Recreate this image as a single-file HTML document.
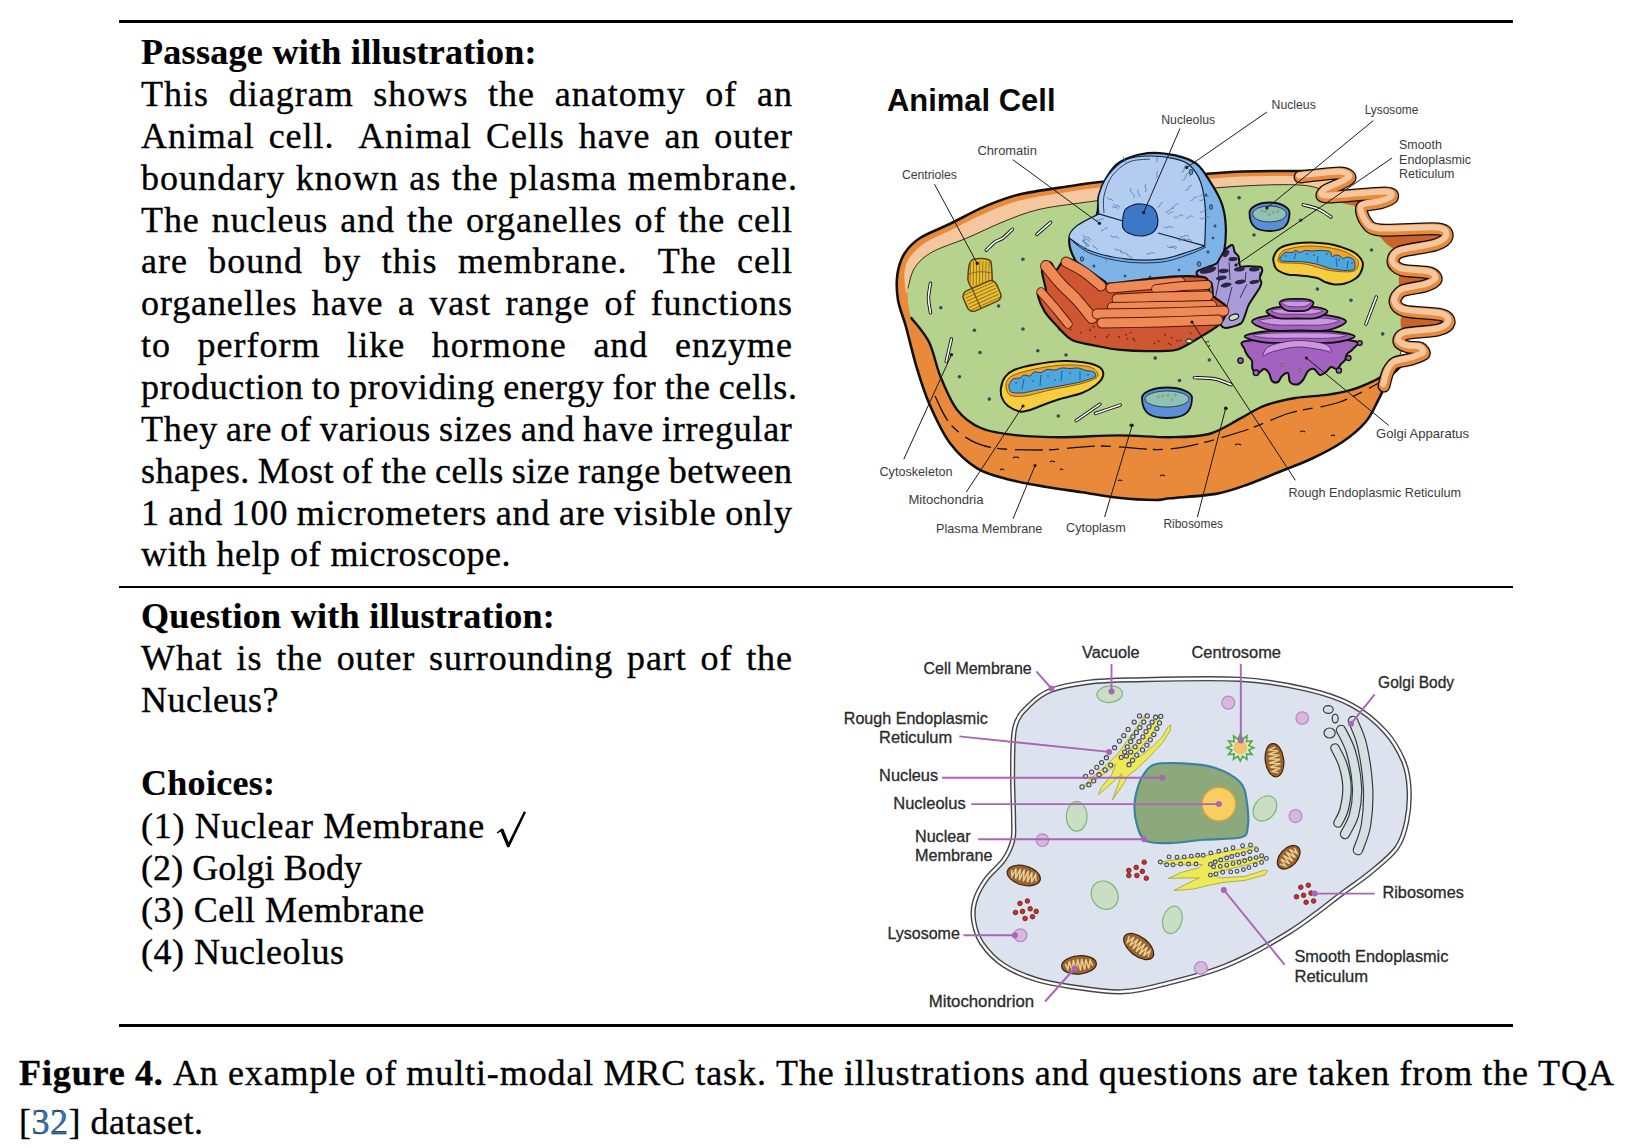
<!DOCTYPE html>
<html><head><meta charset="utf-8"><style>
html,body{margin:0;padding:0;background:#fff;width:1636px;height:1148px;overflow:hidden;position:relative}
.l{position:absolute;left:141px;font-family:"Liberation Serif",serif;font-size:36px;line-height:36px;white-space:nowrap;color:#000;letter-spacing:0.5px;-webkit-text-stroke:0.35px #000}
.f{display:flex;justify-content:space-between}
.b{font-weight:bold;letter-spacing:0.3px;-webkit-text-stroke:0.2px #000}
.rule{position:absolute;left:119px;width:1394px;background:#000}
.ck{position:absolute;left:494px;width:34px;height:40px}
svg.d{position:absolute;left:0;top:0}
</style></head><body>
<div class="rule" style="top:20px;height:3px"></div>
<div class="rule" style="top:586px;height:2px"></div>
<div class="rule" style="top:1024px;height:3px"></div>
<div class="l b" style="top:34px">Passage with illustration:</div>
<div class="l f" style="top:75.9px;left:141px;width:652.0px;letter-spacing:1.01px"><span>This</span><span>diagram</span><span>shows</span><span>the</span><span>anatomy</span><span>of</span><span>an</span></div>
<div class="l f" style="top:117.7px;left:141px;width:652.0px;letter-spacing:0.95px"><span>Animal</span><span>cell. </span><span>Animal</span><span>Cells</span><span>have</span><span>an</span><span>outer</span></div>
<div class="l f" style="top:159.6px;left:141px;width:657.0px;letter-spacing:1.04px"><span>boundary</span><span>known</span><span>as</span><span>the</span><span>plasma</span><span>membrane.</span></div>
<div class="l f" style="top:201.5px;left:141px;width:651.9px;letter-spacing:0.92px"><span>The</span><span>nucleus</span><span>and</span><span>the</span><span>organelles</span><span>of</span><span>the</span><span>cell</span></div>
<div class="l f" style="top:243.4px;left:141px;width:652.0px;letter-spacing:0.97px"><span>are</span><span>bound</span><span>by</span><span>this</span><span>membrane. </span><span>The</span><span>cell</span></div>
<div class="l f" style="top:285.2px;left:141px;width:651.9px;letter-spacing:0.91px"><span>organelles</span><span>have</span><span>a</span><span>vast</span><span>range</span><span>of</span><span>functions</span></div>
<div class="l f" style="top:327.1px;left:141px;width:652.0px;letter-spacing:1.01px"><span>to</span><span>perform</span><span>like</span><span>hormone</span><span>and</span><span>enzyme</span></div>
<div class="l f" style="top:369.0px;left:141px;width:656.7px;letter-spacing:0.66px"><span>production</span><span>to</span><span>providing</span><span>energy</span><span>for</span><span>the</span><span>cells.</span></div>
<div class="l f" style="top:410.8px;left:141px;width:651.7px;letter-spacing:0.74px"><span>They</span><span>are</span><span>of</span><span>various</span><span>sizes</span><span>and</span><span>have</span><span>irregular</span></div>
<div class="l f" style="top:452.7px;left:141px;width:651.5px;letter-spacing:0.54px"><span>shapes.</span><span>Most</span><span>of</span><span>the</span><span>cells</span><span>size</span><span>range</span><span>between</span></div>
<div class="l f" style="top:494.6px;left:141px;width:652.0px;letter-spacing:0.96px"><span>1</span><span>and</span><span>100</span><span>micrometers</span><span>and</span><span>are</span><span>visible</span><span>only</span></div>
<div class="l" style="top:536.4px">with help of microscope.</div>
<div class="l b" style="top:598px">Question with illustration:</div>
<div class="l f" style="top:639.9px;left:141px;width:651.9px;letter-spacing:0.92px"><span>What</span><span>is</span><span>the</span><span>outer</span><span>surrounding</span><span>part</span><span>of</span><span>the</span></div>
<div class="l" style="top:681.7px">Nucleus?</div>
<div class="l b" style="top:765.4px">Choices:</div>
<div class="l" style="top:808.0px;letter-spacing:0.7px">(1) Nuclear Membrane</div>
<div class="ck" style="top:807.2px"></div>
<div class="l" style="top:849.8px;letter-spacing:0.08px">(2) Golgi Body</div>
<div class="l" style="top:891.7px;letter-spacing:0.45px">(3) Cell Membrane</div>
<div class="l" style="top:933.5px;letter-spacing:0.5px">(4) Nucleolus</div>
<div class="l f" style="top:1055.3px;left:19px;width:1596px;letter-spacing:0.9px"><span><b>Figure</b></span><span><b>4.</b></span><span>An</span><span>example</span><span>of</span><span>multi-modal</span><span>MRC</span><span>task.</span><span>The</span><span>illustrations</span><span>and</span><span>questions</span><span>are</span><span>taken</span><span>from</span><span>the</span><span>TQA</span></div>
<div class="l" style="top:1104.1px;left:19px">[<span style="color:#3079c0">32</span>] dataset.</div>

<svg class="d" width="1636" height="1148" viewBox="0 0 1636 1148">
<path d="M496.8,832.6 L501.6,828.6 L503.4,829 L508.6,842.2 L523.9,811.2 L526,812.2 L509.3,847.3 L507.2,847.3 L500.6,831.6 L497.6,833.6Z" fill="#000"/>
<path d="M898.0,300.0 C896.6,291.3 896.3,282.2 897.4,274.5 C898.5,266.8 900.6,259.7 904.4,253.6 C908.2,247.5 912.5,242.9 920.0,238.0 C927.5,233.1 939.0,229.2 949.7,224.0 C960.5,218.8 972.9,211.5 984.5,206.6 C996.1,201.7 1005.0,197.8 1019.4,194.4 C1033.8,191.0 1057.6,188.1 1071.0,186.0 C1084.4,183.9 1085.2,183.5 1100.0,182.0 C1114.8,180.5 1142.5,178.3 1160.0,177.0 C1177.5,175.7 1191.2,174.9 1205.0,174.0 C1218.8,173.1 1227.2,172.0 1243.0,171.5 C1258.8,171.0 1283.8,170.9 1300.0,171.0 C1316.2,171.1 1332.5,170.5 1340.0,172.0 C1347.5,173.5 1347.3,176.8 1345.0,180.0 C1342.7,183.2 1323.2,186.5 1326.0,191.0 C1328.8,195.5 1354.7,201.5 1362.0,207.0 C1369.3,212.5 1364.3,216.8 1370.0,224.0 C1375.7,231.2 1391.5,243.7 1396.0,250.0 C1400.5,256.3 1396.2,256.7 1397.0,262.0 C1397.8,267.3 1400.7,275.3 1401.0,282.0 C1401.3,288.7 1398.5,295.3 1399.0,302.0 C1399.5,308.7 1403.3,315.3 1404.0,322.0 C1404.7,328.7 1404.2,335.3 1403.0,342.0 C1401.8,348.7 1397.5,358.0 1397.0,362.0 C1396.5,366.0 1399.7,365.0 1400.0,366.0 C1400.3,367.0 1400.8,366.3 1399.0,368.2 C1397.2,370.1 1392.9,372.4 1389.5,377.6 C1386.1,382.8 1382.4,392.3 1378.5,399.6 C1374.6,406.9 1372.0,414.4 1366.0,421.5 C1360.0,428.6 1351.6,435.8 1342.4,442.0 C1333.2,448.2 1321.5,454.1 1311.0,459.0 C1300.5,463.9 1290.1,467.5 1279.7,471.7 C1269.3,475.9 1258.9,480.5 1248.4,484.2 C1238.0,487.9 1230.1,491.2 1217.0,493.6 C1203.9,496.0 1180.3,497.2 1170.0,498.3 C1159.7,499.4 1163.6,500.1 1155.0,500.0 C1146.4,499.9 1130.6,499.0 1118.4,497.7 C1106.2,496.4 1093.9,494.0 1081.7,492.2 C1069.5,490.4 1057.2,488.8 1045.0,486.7 C1032.8,484.6 1019.7,482.4 1008.4,479.4 C997.1,476.3 987.0,474.5 977.2,468.4 C967.4,462.3 957.7,453.4 949.7,442.7 C941.8,432.0 935.0,416.7 929.5,404.2 C924.0,391.7 920.6,380.4 916.7,367.5 C912.8,354.6 909.1,338.1 906.0,326.8 C902.9,315.6 899.4,308.7 898.0,300.0Z" fill="#E98A3B" stroke="#111" stroke-width="2.6" stroke-linejoin="round"/>
<path d="M906.0,292.0 C905.4,289.0 903.8,277.8 904.5,272.0 C905.2,266.2 906.6,261.8 910.0,257.0 C913.4,252.2 917.8,247.7 925.0,243.0 C932.2,238.3 942.5,234.2 953.0,229.0 C963.5,223.8 976.5,216.8 988.0,212.0 C999.5,207.2 1008.2,203.4 1022.0,200.0 C1035.8,196.6 1058.0,193.6 1071.0,191.5 C1084.0,189.4 1085.2,189.1 1100.0,187.5 C1114.8,185.9 1142.5,183.4 1160.0,182.0 C1177.5,180.6 1191.2,179.9 1205.0,179.0 C1218.8,178.1 1227.2,177.0 1243.0,176.5 C1258.8,176.0 1284.7,175.9 1300.0,176.0 C1315.3,176.1 1330.7,174.7 1335.0,177.0 C1339.3,179.3 1331.8,188.7 1326.0,190.0 C1320.2,191.3 1313.8,185.7 1300.0,185.0 C1286.2,184.3 1266.3,184.7 1243.0,186.0 C1219.7,187.3 1187.2,190.2 1160.0,193.0 C1132.8,195.8 1100.5,200.2 1080.0,203.0 C1059.5,205.8 1049.8,206.8 1036.8,210.0 C1023.8,213.2 1013.6,217.6 1002.0,222.3 C990.4,227.0 978.6,233.1 967.0,238.0 C955.4,242.9 941.0,247.1 932.3,252.0 C923.6,256.9 918.9,261.3 914.8,267.6 C910.7,273.9 909.4,285.9 907.9,290.0 C906.4,294.1 906.6,295.0 906.0,292.0Z" fill="#F5C7A0" stroke="none" stroke-width="0" />
<path d="M907.9,288.5 C908.5,280.1 910.7,273.7 914.8,267.6 C918.9,261.5 923.6,256.9 932.3,252.0 C941.0,247.1 955.4,242.9 967.0,238.0 C978.6,233.1 990.4,227.0 1002.0,222.3 C1013.6,217.6 1023.8,213.2 1036.8,210.0 C1049.8,206.8 1059.5,205.8 1080.0,203.0 C1100.5,200.2 1132.8,195.8 1160.0,193.0 C1187.2,190.2 1219.7,187.3 1243.0,186.0 C1266.3,184.7 1286.5,184.3 1300.0,185.0 C1313.5,185.7 1313.7,186.3 1324.0,190.0 C1334.3,193.7 1354.3,201.3 1362.0,207.0 C1369.7,212.7 1364.3,216.8 1370.0,224.0 C1375.7,231.2 1391.5,243.7 1396.0,250.0 C1400.5,256.3 1396.2,256.7 1397.0,262.0 C1397.8,267.3 1400.7,275.3 1401.0,282.0 C1401.3,288.7 1398.5,295.3 1399.0,302.0 C1399.5,308.7 1403.3,315.3 1404.0,322.0 C1404.7,328.7 1404.2,335.3 1403.0,342.0 C1401.8,348.7 1399.2,357.1 1397.0,362.0 C1394.8,366.9 1393.4,368.3 1389.5,371.4 C1385.6,374.5 1380.3,377.7 1373.8,380.8 C1367.3,383.9 1358.1,387.9 1350.3,390.2 C1342.5,392.5 1335.9,393.6 1326.8,394.9 C1317.7,396.2 1305.9,396.2 1295.4,398.0 C1284.9,399.8 1273.2,402.4 1264.0,405.8 C1254.8,409.2 1249.7,413.7 1240.5,418.4 C1231.3,423.1 1220.8,430.9 1209.0,434.0 C1197.2,437.1 1185.1,437.0 1170.0,437.2 C1154.9,437.4 1136.2,435.4 1118.4,435.4 C1100.6,435.4 1080.2,437.2 1063.4,437.2 C1046.6,437.2 1031.2,436.9 1017.5,435.4 C1003.8,433.9 991.0,432.3 980.9,428.0 C970.8,423.7 963.7,418.2 957.0,409.7 C950.3,401.1 945.2,388.0 940.5,376.7 C935.8,365.4 933.9,351.8 929.0,342.0 C924.1,332.2 914.9,326.9 911.4,318.0 C907.9,309.1 907.3,296.9 907.9,288.5Z" fill="#B5D38C" stroke="none" stroke-width="0" />
<path d="M911.4,318.0 C914.3,322.0 924.1,332.2 929.0,342.0 C933.9,351.8 935.8,365.4 940.5,376.7 C945.2,388.0 950.3,401.1 957.0,409.7 C963.7,418.2 970.8,423.7 980.9,428.0 C991.0,432.3 1003.8,433.9 1017.5,435.4 C1031.2,436.9 1046.6,437.2 1063.4,437.2 C1080.2,437.2 1100.6,435.4 1118.4,435.4 C1136.2,435.4 1154.9,437.4 1170.0,437.2 C1185.1,437.0 1197.2,437.1 1209.0,434.0 C1220.8,430.9 1231.3,423.1 1240.5,418.4 C1249.7,413.7 1254.8,409.2 1264.0,405.8 C1273.2,402.4 1284.9,399.8 1295.4,398.0 C1305.9,396.2 1317.7,396.2 1326.8,394.9 C1335.9,393.6 1342.5,392.5 1350.3,390.2 C1358.1,387.9 1367.3,383.9 1373.8,380.8 C1380.3,377.7 1386.9,373.0 1389.5,371.4" fill="none" stroke="#111" stroke-width="2.4" stroke-linecap="round"/>
<path d="M907.9,288.5 C909.0,285.0 910.7,273.7 914.8,267.6 C918.9,261.5 923.6,256.9 932.3,252.0 C941.0,247.1 955.4,242.9 967.0,238.0 C978.6,233.1 990.4,227.0 1002.0,222.3 C1013.6,217.6 1023.8,213.2 1036.8,210.0 C1049.8,206.8 1059.5,205.8 1080.0,203.0 C1100.5,200.2 1132.8,195.8 1160.0,193.0 C1187.2,190.2 1219.7,187.3 1243.0,186.0 C1266.3,184.7 1286.5,184.3 1300.0,185.0 C1313.5,185.7 1320.0,189.2 1324.0,190.0" fill="none" stroke="#3a2a1a" stroke-width="1.0" />
<path d="M935.0,396.0 C937.8,401.0 943.7,417.7 952.0,426.0 C960.3,434.3 970.3,442.0 985.0,446.0 C999.7,450.0 1020.8,450.0 1040.0,450.0 C1059.2,450.0 1078.3,446.2 1100.0,446.0 C1121.7,445.8 1146.7,451.3 1170.0,449.0 C1193.3,446.7 1220.0,438.0 1240.0,432.0 C1260.0,426.0 1273.3,418.0 1290.0,413.0 C1306.7,408.0 1323.7,407.8 1340.0,402.0 C1356.3,396.2 1380.0,382.0 1388.0,378.0" fill="none" stroke="#111" stroke-width="1.3" stroke-dasharray="28 6 10 8"/>
<path d="M1013,458 q3.0,-2 6,0" fill="none" stroke="#111" stroke-width="1.1" />
<path d="M1050,462 q2.5,-2 5,0" fill="none" stroke="#111" stroke-width="1.1" />
<path d="M1118,481 q2.0,-2 4,0" fill="none" stroke="#111" stroke-width="1.1" />
<path d="M1160,476 q2.5,-2 5,0" fill="none" stroke="#111" stroke-width="1.1" />
<path d="M1235,445 q3.0,-2 6,0" fill="none" stroke="#111" stroke-width="1.1" />
<path d="M1300,432 q2.5,-2 5,0" fill="none" stroke="#111" stroke-width="1.1" />
<path d="M1331,436 q2.0,-2 4,0" fill="none" stroke="#111" stroke-width="1.1" />
<path d="M1060,470 q1.5,-2 3,0" fill="none" stroke="#111" stroke-width="1.1" />
<path d="M1000,470 q2.0,-2 4,0" fill="none" stroke="#111" stroke-width="1.1" />
<path d="M1380.0,230.0 C1386.3,226.2 1426.8,227.8 1438.0,229.0 C1449.2,230.2 1447.5,234.3 1447.0,237.0 C1446.5,239.7 1442.8,242.5 1435.0,245.0 C1427.2,247.5 1409.2,254.5 1400.0,252.0 C1390.8,249.5 1373.7,233.8 1380.0,230.0Z" fill="#C9652A" stroke="none" stroke-width="0" />
<path d="M1402.0,270.0 C1406.7,267.0 1424.3,271.3 1430.0,273.0 C1435.7,274.7 1436.8,277.8 1436.0,280.0 C1435.2,282.2 1430.7,284.2 1425.0,286.0 C1419.3,287.8 1405.8,293.7 1402.0,291.0 C1398.2,288.3 1397.3,273.0 1402.0,270.0Z" fill="#C9652A" stroke="none" stroke-width="0" />
<path d="M1405.0,311.0 C1411.2,307.8 1434.7,313.0 1442.0,315.0 C1449.3,317.0 1449.7,320.5 1449.0,323.0 C1448.3,325.5 1445.3,328.2 1438.0,330.0 C1430.7,331.8 1410.5,337.2 1405.0,334.0 C1399.5,330.8 1398.8,314.2 1405.0,311.0Z" fill="#C9652A" stroke="none" stroke-width="0" />
<path d="M1327.0,197.0 C1330.8,194.7 1374.2,192.8 1385.0,193.0 C1395.8,193.2 1392.8,196.3 1392.0,198.0 C1391.2,199.7 1385.0,201.5 1380.0,203.0 C1375.0,204.5 1370.8,208.0 1362.0,207.0 C1353.2,206.0 1323.2,199.3 1327.0,197.0Z" fill="#C9652A" stroke="none" stroke-width="0" />
<path d="M1300.0,177.0 C1306.0,176.4 1332.5,172.8 1340.0,173.0 C1347.5,173.2 1350.3,176.2 1350.0,178.0 C1349.7,179.8 1341.8,183.1 1338.0,185.0 C1334.2,186.9 1326.7,189.2 1325.0,191.0 C1323.3,192.8 1318.0,196.7 1327.0,197.0 C1336.0,197.3 1375.2,192.8 1385.0,193.0 C1394.8,193.2 1392.8,196.5 1392.0,198.0 C1391.2,199.5 1384.5,201.7 1380.0,203.0 C1375.5,204.3 1364.1,204.2 1362.0,207.0 C1359.9,209.8 1363.3,218.6 1366.0,222.0 C1368.7,225.4 1369.2,228.9 1380.0,230.0 C1390.8,231.1 1428.0,227.9 1438.0,229.0 C1448.0,230.1 1447.5,234.6 1447.0,237.0 C1446.5,239.4 1442.0,242.8 1435.0,245.0 C1428.0,247.2 1406.3,249.4 1400.0,252.0 C1393.7,254.6 1392.7,259.3 1393.0,262.0 C1393.3,264.7 1396.5,268.4 1402.0,270.0 C1407.5,271.6 1424.9,271.5 1430.0,273.0 C1435.1,274.5 1436.8,278.1 1436.0,280.0 C1435.2,281.9 1430.1,284.4 1425.0,286.0 C1419.9,287.6 1406.5,288.6 1402.0,291.0 C1397.5,293.4 1394.5,299.0 1395.0,302.0 C1395.5,305.0 1398.0,309.1 1405.0,311.0 C1412.0,312.9 1435.4,313.2 1442.0,315.0 C1448.6,316.8 1449.6,320.8 1449.0,323.0 C1448.4,325.2 1444.6,328.4 1438.0,330.0 C1431.4,331.6 1410.8,332.2 1405.0,334.0 C1399.2,335.8 1398.5,340.1 1399.0,342.0 C1399.5,343.9 1404.8,346.1 1408.0,347.0 C1411.2,347.9 1417.6,346.9 1420.0,348.0 C1422.4,349.1 1425.2,352.4 1424.0,354.0 C1422.8,355.6 1416.3,357.6 1412.0,359.0 C1407.7,360.4 1398.6,361.1 1395.0,363.0 C1391.4,364.9 1389.7,368.6 1388.0,372.0 C1386.3,375.4 1384.6,383.9 1384.0,386.0" fill="none" stroke="#111" stroke-width="13" stroke-linejoin="round" stroke-linecap="round"/>
<path d="M1300.0,177.0 C1306.0,176.4 1332.5,172.8 1340.0,173.0 C1347.5,173.2 1350.3,176.2 1350.0,178.0 C1349.7,179.8 1341.8,183.1 1338.0,185.0 C1334.2,186.9 1326.7,189.2 1325.0,191.0 C1323.3,192.8 1318.0,196.7 1327.0,197.0 C1336.0,197.3 1375.2,192.8 1385.0,193.0 C1394.8,193.2 1392.8,196.5 1392.0,198.0 C1391.2,199.5 1384.5,201.7 1380.0,203.0 C1375.5,204.3 1364.1,204.2 1362.0,207.0 C1359.9,209.8 1363.3,218.6 1366.0,222.0 C1368.7,225.4 1369.2,228.9 1380.0,230.0 C1390.8,231.1 1428.0,227.9 1438.0,229.0 C1448.0,230.1 1447.5,234.6 1447.0,237.0 C1446.5,239.4 1442.0,242.8 1435.0,245.0 C1428.0,247.2 1406.3,249.4 1400.0,252.0 C1393.7,254.6 1392.7,259.3 1393.0,262.0 C1393.3,264.7 1396.5,268.4 1402.0,270.0 C1407.5,271.6 1424.9,271.5 1430.0,273.0 C1435.1,274.5 1436.8,278.1 1436.0,280.0 C1435.2,281.9 1430.1,284.4 1425.0,286.0 C1419.9,287.6 1406.5,288.6 1402.0,291.0 C1397.5,293.4 1394.5,299.0 1395.0,302.0 C1395.5,305.0 1398.0,309.1 1405.0,311.0 C1412.0,312.9 1435.4,313.2 1442.0,315.0 C1448.6,316.8 1449.6,320.8 1449.0,323.0 C1448.4,325.2 1444.6,328.4 1438.0,330.0 C1431.4,331.6 1410.8,332.2 1405.0,334.0 C1399.2,335.8 1398.5,340.1 1399.0,342.0 C1399.5,343.9 1404.8,346.1 1408.0,347.0 C1411.2,347.9 1417.6,346.9 1420.0,348.0 C1422.4,349.1 1425.2,352.4 1424.0,354.0 C1422.8,355.6 1416.3,357.6 1412.0,359.0 C1407.7,360.4 1398.6,361.1 1395.0,363.0 C1391.4,364.9 1389.7,368.6 1388.0,372.0 C1386.3,375.4 1384.6,383.9 1384.0,386.0" fill="none" stroke="#E98A3B" stroke-width="10.4" stroke-linejoin="round" stroke-linecap="round"/>
<path d="M1300.0,177.0 C1306.0,176.4 1332.5,172.8 1340.0,173.0 C1347.5,173.2 1350.3,176.2 1350.0,178.0 C1349.7,179.8 1341.8,183.1 1338.0,185.0 C1334.2,186.9 1326.7,189.2 1325.0,191.0 C1323.3,192.8 1318.0,196.7 1327.0,197.0 C1336.0,197.3 1375.2,192.8 1385.0,193.0 C1394.8,193.2 1392.8,196.5 1392.0,198.0 C1391.2,199.5 1384.5,201.7 1380.0,203.0 C1375.5,204.3 1364.1,204.2 1362.0,207.0 C1359.9,209.8 1363.3,218.6 1366.0,222.0 C1368.7,225.4 1369.2,228.9 1380.0,230.0 C1390.8,231.1 1428.0,227.9 1438.0,229.0 C1448.0,230.1 1447.5,234.6 1447.0,237.0 C1446.5,239.4 1442.0,242.8 1435.0,245.0 C1428.0,247.2 1406.3,249.4 1400.0,252.0 C1393.7,254.6 1392.7,259.3 1393.0,262.0 C1393.3,264.7 1396.5,268.4 1402.0,270.0 C1407.5,271.6 1424.9,271.5 1430.0,273.0 C1435.1,274.5 1436.8,278.1 1436.0,280.0 C1435.2,281.9 1430.1,284.4 1425.0,286.0 C1419.9,287.6 1406.5,288.6 1402.0,291.0 C1397.5,293.4 1394.5,299.0 1395.0,302.0 C1395.5,305.0 1398.0,309.1 1405.0,311.0 C1412.0,312.9 1435.4,313.2 1442.0,315.0 C1448.6,316.8 1449.6,320.8 1449.0,323.0 C1448.4,325.2 1444.6,328.4 1438.0,330.0 C1431.4,331.6 1410.8,332.2 1405.0,334.0 C1399.2,335.8 1398.5,340.1 1399.0,342.0 C1399.5,343.9 1404.8,346.1 1408.0,347.0 C1411.2,347.9 1417.6,346.9 1420.0,348.0 C1422.4,349.1 1425.2,352.4 1424.0,354.0 C1422.8,355.6 1416.3,357.6 1412.0,359.0 C1407.7,360.4 1398.6,361.1 1395.0,363.0 C1391.4,364.9 1389.7,368.6 1388.0,372.0 C1386.3,375.4 1384.6,383.9 1384.0,386.0" fill="none" stroke="#F5C7A0" stroke-width="6" stroke-linejoin="round" stroke-linecap="round" transform="translate(-0.8,-1.6)"/>
<path d="M986.3,250.1 C987.8,248.8 992.2,244.0 995.0,242.0 C997.8,240.0 1000.1,240.1 1003.0,238.0 C1005.9,235.9 1010.8,230.7 1012.4,229.2" fill="none" stroke="#111" stroke-width="3.4" stroke-linecap="round"/>
<path d="M986.3,250.1 C987.8,248.8 992.2,244.0 995.0,242.0 C997.8,240.0 1000.1,240.1 1003.0,238.0 C1005.9,235.9 1010.8,230.7 1012.4,229.2" fill="none" stroke="#fff" stroke-width="1.6" stroke-linecap="round"/>
<path d="M1036.8,234.5 C1039.1,232.5 1048.4,224.3 1050.7,222.3" fill="none" stroke="#111" stroke-width="3.4" stroke-linecap="round"/>
<path d="M1036.8,234.5 C1039.1,232.5 1048.4,224.3 1050.7,222.3" fill="none" stroke="#fff" stroke-width="1.6" stroke-linecap="round"/>
<path d="M930.5,283.2 C930.2,285.7 928.5,293.1 928.5,298.0 C928.5,302.9 930.2,310.4 930.5,312.9" fill="none" stroke="#111" stroke-width="3.4" stroke-linecap="round"/>
<path d="M930.5,283.2 C930.2,285.7 928.5,293.1 928.5,298.0 C928.5,302.9 930.2,310.4 930.5,312.9" fill="none" stroke="#fff" stroke-width="1.6" stroke-linecap="round"/>
<path d="M946.2,361.6 C947.1,357.8 950.5,342.8 951.4,339.0" fill="none" stroke="#111" stroke-width="3.4" stroke-linecap="round"/>
<path d="M946.2,361.6 C947.1,357.8 950.5,342.8 951.4,339.0" fill="none" stroke="#fff" stroke-width="1.6" stroke-linecap="round"/>
<path d="M1076.2,420.7 C1080.2,417.9 1096.0,406.9 1100.0,404.2" fill="none" stroke="#111" stroke-width="3.4" stroke-linecap="round"/>
<path d="M1076.2,420.7 C1080.2,417.9 1096.0,406.9 1100.0,404.2" fill="none" stroke="#fff" stroke-width="1.6" stroke-linecap="round"/>
<path d="M1095.5,413.4 C1099.6,412.0 1116.1,406.5 1120.2,405.1" fill="none" stroke="#111" stroke-width="3.4" stroke-linecap="round"/>
<path d="M1095.5,413.4 C1099.6,412.0 1116.1,406.5 1120.2,405.1" fill="none" stroke="#fff" stroke-width="1.6" stroke-linecap="round"/>
<path d="M1194.3,377.6 C1197.8,377.8 1208.9,377.8 1215.0,379.0 C1221.1,380.2 1228.4,383.8 1231.1,384.7" fill="none" stroke="#111" stroke-width="3.4" stroke-linecap="round"/>
<path d="M1194.3,377.6 C1197.8,377.8 1208.9,377.8 1215.0,379.0 C1221.1,380.2 1228.4,383.8 1231.1,384.7" fill="none" stroke="#fff" stroke-width="1.6" stroke-linecap="round"/>
<path d="M1303.2,204.8 C1305.7,205.5 1313.4,207.0 1318.0,209.0 C1322.6,211.0 1328.8,215.7 1331.0,217.0" fill="none" stroke="#111" stroke-width="3.4" stroke-linecap="round"/>
<path d="M1303.2,204.8 C1305.7,205.5 1313.4,207.0 1318.0,209.0 C1322.6,211.0 1328.8,215.7 1331.0,217.0" fill="none" stroke="#fff" stroke-width="1.6" stroke-linecap="round"/>
<path d="M1365.9,324.1 C1367.6,319.6 1374.6,301.6 1376.3,297.1" fill="none" stroke="#111" stroke-width="3.4" stroke-linecap="round"/>
<path d="M1365.9,324.1 C1367.6,319.6 1374.6,301.6 1376.3,297.1" fill="none" stroke="#fff" stroke-width="1.6" stroke-linecap="round"/>
<circle cx="1022.9" cy="259.3" r="1.8" fill="#2c4f5c"/>
<circle cx="998.6" cy="306" r="1.8" fill="#2c4f5c"/>
<circle cx="940.8" cy="307.8" r="1.8" fill="#2c4f5c"/>
<circle cx="974.4" cy="330.2" r="1.8" fill="#2c4f5c"/>
<circle cx="1037.8" cy="350.7" r="1.8" fill="#2c4f5c"/>
<circle cx="980" cy="352.5" r="1.8" fill="#2c4f5c"/>
<circle cx="959.5" cy="376.8" r="1.8" fill="#2c4f5c"/>
<circle cx="989.3" cy="399.1" r="1.8" fill="#2c4f5c"/>
<circle cx="1058.3" cy="416" r="1.8" fill="#2c4f5c"/>
<circle cx="1155.2" cy="358.1" r="1.8" fill="#2c4f5c"/>
<circle cx="1179.5" cy="380.5" r="1.8" fill="#2c4f5c"/>
<circle cx="1209.3" cy="360" r="1.8" fill="#2c4f5c"/>
<circle cx="1239.1" cy="197.8" r="1.8" fill="#2c4f5c"/>
<circle cx="1254" cy="235" r="1.8" fill="#2c4f5c"/>
<circle cx="1300.7" cy="220.2" r="1.8" fill="#2c4f5c"/>
<circle cx="1371.5" cy="250" r="1.8" fill="#2c4f5c"/>
<circle cx="1317.4" cy="289.1" r="1.8" fill="#2c4f5c"/>
<circle cx="1351" cy="300.3" r="1.8" fill="#2c4f5c"/>
<circle cx="1382.7" cy="333.9" r="1.8" fill="#2c4f5c"/>
<circle cx="1131" cy="425.2" r="1.8" fill="#2c4f5c"/>
<circle cx="1226" cy="408.5" r="1.8" fill="#2c4f5c"/>
<circle cx="1023" cy="329" r="1.8" fill="#2c4f5c"/>
<circle cx="1066" cy="355" r="1.8" fill="#2c4f5c"/>
<circle cx="1281" cy="324" r="1.8" fill="#2c4f5c"/>
<path d="M1096.0,216.0 C1099.5,210.9 1097.2,201.9 1098.8,195.7 C1100.4,189.5 1102.2,184.6 1105.7,179.0 C1109.2,173.4 1112.7,166.6 1119.7,162.3 C1126.7,158.0 1138.3,154.4 1147.6,153.2 C1156.9,152.0 1167.3,153.6 1175.4,155.3 C1183.5,157.1 1190.5,159.3 1196.3,163.7 C1202.1,168.1 1206.1,175.3 1210.3,181.8 C1214.5,188.3 1218.9,195.7 1221.4,202.7 C1224.0,209.7 1225.1,215.5 1225.6,223.6 C1226.1,231.7 1225.6,243.4 1224.2,251.5 C1222.8,259.6 1220.7,266.6 1217.2,272.4 C1213.7,278.2 1210.3,282.9 1203.3,286.3 C1196.3,289.7 1187.0,291.9 1175.4,292.6 C1163.8,293.3 1145.2,291.8 1133.6,290.5 C1122.0,289.2 1113.8,288.0 1105.7,285.0 C1097.6,282.0 1090.4,277.5 1084.8,272.4 C1079.2,267.3 1074.8,260.1 1072.3,254.3 C1069.8,248.5 1068.6,242.2 1069.5,237.6 C1070.4,232.9 1073.5,230.0 1077.9,226.4 C1082.3,222.8 1092.5,221.1 1096.0,216.0Z" fill="#7DB3E6" stroke="#111" stroke-width="2.2" stroke-linejoin="round"/>
<path d="M1098.8,213.9 C1098.8,210.9 1097.2,202.2 1098.8,195.7 C1100.4,189.2 1103.8,180.8 1108.5,174.8 C1113.2,168.8 1119.7,162.6 1126.7,159.5 C1133.7,156.4 1142.2,156.1 1150.3,156.0 C1158.4,155.9 1168.9,157.3 1175.4,158.8 C1181.9,160.3 1185.2,161.2 1189.4,165.0 C1193.6,168.8 1197.8,174.4 1200.5,181.8 C1203.2,189.2 1204.7,199.0 1205.4,209.7 C1206.1,220.4 1204.8,239.9 1204.7,245.9 L1204.7,245.9 C1202.2,246.8 1196.6,249.3 1189.4,251.5 C1182.2,253.7 1172.0,257.9 1161.5,259.2 C1151.0,260.5 1138.3,260.5 1126.7,259.2 C1115.1,257.9 1100.9,254.7 1091.8,251.5 C1082.7,248.3 1076.0,243.1 1072.3,240.3 C1068.6,237.5 1068.6,237.4 1069.5,234.8 C1070.4,232.2 1073.0,228.5 1077.9,225.0 C1082.8,221.5 1095.3,215.8 1098.8,213.9Z" fill="#B3CDF0" stroke="#10213a" stroke-width="1.2" stroke-linejoin="round"/>
<path d="M1098.8,213.9 L1123,221 M1158,233 L1204.7,245.9" fill="none" stroke="#10213a" stroke-width="1.1" />
<path d="M1104.0,213.0 C1104.0,210.2 1102.7,202.2 1104.0,196.0 C1105.3,189.8 1107.8,181.7 1112.0,176.0 C1116.2,170.3 1122.7,164.8 1129.0,162.0 C1135.3,159.2 1146.5,159.5 1150.0,159.0" fill="none" stroke="#10213a" stroke-width="0.8" />
<path d="M1073.0,242.0 C1076.2,244.0 1083.0,250.7 1092.0,254.0 C1101.0,257.3 1115.3,260.7 1127.0,262.0 C1138.7,263.3 1151.5,263.3 1162.0,262.0 C1172.5,260.7 1182.7,256.5 1190.0,254.0 C1197.3,251.5 1203.3,248.2 1206.0,247.0" fill="none" stroke="#10213a" stroke-width="0.9" />
<path d="M1157.5,207.0 c3.4,1.0 1.4,-4.8 5.4,-4.3" fill="none" stroke="#5a7fb2" stroke-width="0.9" />
<path d="M1178.0,239.2 c1.9,3.7 5.2,-2.6 7.9,1.1" fill="none" stroke="#5a7fb2" stroke-width="0.9" />
<path d="M1084.0,237.8 c-0.1,3.6 5.1,0.2 5.6,4.1" fill="none" stroke="#5a7fb2" stroke-width="0.9" />
<path d="M1171.0,245.8 c1.0,3.0 4.3,-1.4 5.9,1.8" fill="none" stroke="#5a7fb2" stroke-width="0.9" />
<path d="M1117.8,208.8 c-0.4,-3.3 -4.7,0.5 -5.7,-3.1" fill="none" stroke="#5a7fb2" stroke-width="0.9" />
<path d="M1198.8,196.1 c2.9,1.8 2.6,-4.1 6.1,-2.6" fill="none" stroke="#5a7fb2" stroke-width="0.9" />
<path d="M1181.3,172.2 c5.0,0.4 0.7,-7.1 6.3,-7.4" fill="none" stroke="#5a7fb2" stroke-width="0.9" />
<path d="M1119.6,207.5 c-0.1,-3.5 -4.9,0.1 -5.6,-3.7" fill="none" stroke="#5a7fb2" stroke-width="0.9" />
<path d="M1079.8,244.9 c0.0,4.7 6.7,0.0 7.4,5.3" fill="none" stroke="#5a7fb2" stroke-width="0.9" />
<path d="M1102.1,254.9 c-1.9,4.3 6.0,2.7 4.6,7.8" fill="none" stroke="#5a7fb2" stroke-width="0.9" />
<path d="M1174.2,216.9 c3.1,3.4 4.9,-4.4 8.9,-1.1" fill="none" stroke="#5a7fb2" stroke-width="0.9" />
<path d="M1182.5,179.7 c4.9,0.9 1.3,-7.0 7.0,-6.8" fill="none" stroke="#5a7fb2" stroke-width="0.9" />
<path d="M1190.4,200.1 c3.3,2.0 2.9,-4.6 6.9,-2.9" fill="none" stroke="#5a7fb2" stroke-width="0.9" />
<path d="M1133.7,197.8 c3.3,-4.0 -5.6,-4.7 -2.6,-9.6" fill="none" stroke="#5a7fb2" stroke-width="0.9" />
<path d="M1125.3,162.6 c2.1,-2.5 -3.5,-3.1 -1.6,-6.2" fill="none" stroke="#5a7fb2" stroke-width="0.9" />
<path d="M1103.9,219.7 c-2.3,-3.5 -5.1,3.3 -8.2,-0.3" fill="none" stroke="#5a7fb2" stroke-width="0.9" />
<path d="M1155.9,177.7 c3.3,-0.9 -1.2,-4.7 2.3,-6.3" fill="none" stroke="#5a7fb2" stroke-width="0.9" />
<path d="M1120.3,250.9 c0.4,4.3 6.1,-0.5 7.3,4.2" fill="none" stroke="#5a7fb2" stroke-width="0.9" />
<path d="M1083.5,239.7 c-1.7,3.5 4.9,2.4 3.6,6.6" fill="none" stroke="#5a7fb2" stroke-width="0.9" />
<path d="M1163.8,226.2 c1.9,4.6 6.5,-2.7 9.4,2.1" fill="none" stroke="#5a7fb2" stroke-width="0.9" />
<path d="M1199.6,199.9 c4.2,2.9 4.2,-5.9 9.4,-3.3" fill="none" stroke="#5a7fb2" stroke-width="0.9" />
<path d="M1200.0,217.9 c3.1,3.8 5.5,-4.3 9.5,-0.5" fill="none" stroke="#5a7fb2" stroke-width="0.9" />
<path d="M1138.8,196.8 c2.8,-2.2 -3.1,-4.0 -0.3,-7.0" fill="none" stroke="#5a7fb2" stroke-width="0.9" />
<path d="M1188.9,175.9 c3.2,0.7 1.0,-4.5 4.6,-4.3" fill="none" stroke="#5a7fb2" stroke-width="0.9" />
<path d="M1179.7,235.8 c2.4,4.2 6.0,-3.4 9.3,0.9" fill="none" stroke="#5a7fb2" stroke-width="0.9" />
<path d="M1112.7,201.1 c0.0,-3.4 -4.9,-0.1 -5.4,-3.9" fill="none" stroke="#5a7fb2" stroke-width="0.9" />
<path d="M1172.0,206.9 c3.1,1.8 2.7,-4.4 6.4,-2.8" fill="none" stroke="#5a7fb2" stroke-width="0.9" />
<path d="M1199.7,211.5 c3.2,3.3 4.7,-4.5 8.8,-1.4" fill="none" stroke="#5a7fb2" stroke-width="0.9" />
<path d="M1184.0,237.9 c0.9,4.2 6.0,-1.2 7.7,3.4" fill="none" stroke="#5a7fb2" stroke-width="0.9" />
<path d="M1185.4,190.2 c3.9,1.5 2.1,-5.6 6.7,-4.6" fill="none" stroke="#5a7fb2" stroke-width="0.9" />
<path d="M1110.9,235.3 c0.9,4.4 6.3,-1.3 8.0,3.5" fill="none" stroke="#5a7fb2" stroke-width="0.9" />
<path d="M1185.7,217.3 c2.3,2.8 4.0,-3.3 7.0,-0.6" fill="none" stroke="#5a7fb2" stroke-width="0.9" />
<path d="M1127.7,254.0 c-0.9,3.2 4.6,1.4 4.0,5.1" fill="none" stroke="#5a7fb2" stroke-width="0.9" />
<path d="M1093.3,245.0 c-1.0,3.2 4.5,1.5 3.9,5.2" fill="none" stroke="#5a7fb2" stroke-width="0.9" />
<path d="M1145.0,191.8 c3.7,-1.8 -2.5,-5.3 1.4,-7.9" fill="none" stroke="#5a7fb2" stroke-width="0.9" />
<path d="M1167.3,213.9 c2.4,2.0 2.9,-3.4 6.0,-1.6" fill="none" stroke="#5a7fb2" stroke-width="0.9" />
<path d="M1167.4,245.6 c0.9,4.7 6.6,-1.1 8.3,3.9" fill="none" stroke="#5a7fb2" stroke-width="0.9" />
<path d="M1083.3,234.9 c0.0,4.6 6.5,0.0 7.2,5.1" fill="none" stroke="#5a7fb2" stroke-width="0.9" />
<path d="M1107.9,228.3 c-2.8,-2.5 -3.6,3.9 -7.1,1.6" fill="none" stroke="#5a7fb2" stroke-width="0.9" />
<path d="M1115.2,248.3 c0.4,4.1 5.8,-0.5 6.9,4.0" fill="none" stroke="#5a7fb2" stroke-width="0.9" />
<path d="M1146.4,252.9 c2.2,3.7 5.3,-3.1 8.4,0.8" fill="none" stroke="#5a7fb2" stroke-width="0.9" />
<path d="M1165.9,211.5 c3.5,2.4 3.5,-4.9 7.7,-2.8" fill="none" stroke="#5a7fb2" stroke-width="0.9" />
<path d="M1083.3,239.8 c-2.2,3.1 4.4,3.1 2.5,7.0" fill="none" stroke="#5a7fb2" stroke-width="0.9" />
<path d="M1116.4,257.3 c0.9,3.1 4.4,-1.3 6.0,2.0" fill="none" stroke="#5a7fb2" stroke-width="0.9" />
<path d="M1084.5,239.8 c-1.7,3.7 5.2,2.4 3.9,6.8" fill="none" stroke="#5a7fb2" stroke-width="0.9" />
<path d="M1155.8,161.9 c4.1,-1.6 -2.2,-5.9 2.2,-8.3" fill="none" stroke="#5a7fb2" stroke-width="0.9" />
<path d="M1122.5,222.0 C1122.8,219.0 1123.2,212.8 1125.0,210.0 C1126.8,207.2 1130.2,206.0 1133.0,205.0 C1135.8,204.0 1138.8,203.7 1142.0,204.0 C1145.2,204.3 1149.5,205.2 1152.0,207.0 C1154.5,208.8 1156.1,212.0 1157.0,215.0 C1157.9,218.0 1158.3,222.0 1157.5,225.0 C1156.7,228.0 1154.9,231.2 1152.0,233.0 C1149.1,234.8 1144.0,236.0 1140.0,236.0 C1136.0,236.0 1130.8,234.3 1128.0,233.0 C1125.2,231.7 1123.9,229.8 1123.0,228.0 C1122.1,226.2 1122.2,225.0 1122.5,222.0Z" fill="#3C77C8" stroke="#10213a" stroke-width="1.2" />
<ellipse cx="1191" cy="172" rx="1.8" ry="2.8" fill="#5e8fc8" stroke="#10213a" stroke-width="0.7"/>
<ellipse cx="1211" cy="207" rx="1.5" ry="2.6" fill="#5e8fc8" stroke="#10213a" stroke-width="0.7"/>
<ellipse cx="1215" cy="226" rx="1" ry="1.2" fill="#5e8fc8" stroke="#10213a" stroke-width="0.7"/>
<ellipse cx="1208" cy="252" rx="1.2" ry="1.2" fill="#5e8fc8" stroke="#10213a" stroke-width="0.7"/>
<ellipse cx="1082" cy="259" rx="1.6" ry="2.3" fill="#5e8fc8" stroke="#10213a" stroke-width="0.7"/>
<ellipse cx="1094" cy="266" rx="1" ry="1.2" fill="#5e8fc8" stroke="#10213a" stroke-width="0.7"/>
<ellipse cx="1199" cy="264" rx="1.8" ry="2.4" fill="#5e8fc8" stroke="#10213a" stroke-width="0.7"/>
<ellipse cx="1179" cy="270" rx="1" ry="1" fill="#5e8fc8" stroke="#10213a" stroke-width="0.7"/>
<ellipse cx="1125" cy="276" rx="1" ry="1" fill="#5e8fc8" stroke="#10213a" stroke-width="0.7"/>
<ellipse cx="1150" cy="277" rx="1" ry="1" fill="#5e8fc8" stroke="#10213a" stroke-width="0.7"/>
<ellipse cx="1206" cy="195" rx="1" ry="1" fill="#5e8fc8" stroke="#10213a" stroke-width="0.7"/>
<ellipse cx="1213" cy="238" rx="1" ry="1" fill="#5e8fc8" stroke="#10213a" stroke-width="0.7"/>
<path d="M1197.8,270.9 C1200.1,269.2 1213.0,265.5 1215.9,263.8 C1218.8,262.1 1218.5,260.2 1219.8,258.3 C1221.1,256.4 1223.6,251.5 1225.3,249.7 C1227.0,247.9 1231.1,244.7 1232.4,245.0 C1233.7,245.3 1233.9,250.4 1234.7,252.0 C1235.5,253.6 1237.9,254.9 1238.6,256.8 C1239.3,258.7 1239.0,264.9 1240.2,266.2 C1241.4,267.5 1244.6,266.1 1247.3,266.2 C1250.0,266.3 1258.6,266.4 1260.6,267.0 C1262.6,267.6 1262.3,269.4 1262.2,270.9 C1262.1,272.4 1259.9,276.4 1259.8,278.0 C1259.7,279.6 1261.5,281.1 1261.4,282.6 C1261.3,284.1 1260.7,286.0 1259.0,288.9 C1257.3,291.8 1250.7,301.0 1248.8,304.6 C1246.9,308.2 1245.9,313.1 1244.9,315.6 C1243.9,318.1 1243.1,321.8 1241.0,323.4 C1238.9,325.0 1231.8,327.1 1229.2,327.4 C1226.6,327.7 1223.5,329.5 1221.4,325.8 C1219.3,322.1 1214.9,305.7 1213.5,299.9 C1212.1,294.1 1213.2,285.7 1211.2,282.6 C1209.2,279.5 1200.4,278.0 1198.6,276.4 C1196.8,274.8 1195.5,272.6 1197.8,270.9Z" fill="#A99CDB" stroke="#111" stroke-width="2" />
<ellipse cx="1208" cy="270.1" rx="8.6" ry="3.1" fill="#2a2540" transform="rotate(-15 1208 270.1)"/>
<ellipse cx="1226.1" cy="253.6" rx="4" ry="2.4" fill="#2a2540" transform="rotate(-50 1226.1 253.6)"/>
<ellipse cx="1233.1" cy="259.1" rx="4.5" ry="2" fill="#2a2540" transform="rotate(-5 1233.1 259.1)"/>
<ellipse cx="1223.7" cy="270.9" rx="5" ry="2.2" fill="#2a2540" transform="rotate(-5 1223.7 270.9)"/>
<ellipse cx="1239.4" cy="269.3" rx="5.5" ry="2.2" fill="#2a2540" transform="rotate(-5 1239.4 269.3)"/>
<ellipse cx="1254.3" cy="269.3" rx="5.5" ry="2.2" fill="#2a2540" transform="rotate(-5 1254.3 269.3)"/>
<ellipse cx="1221.4" cy="277.9" rx="5.5" ry="2.2" fill="#2a2540" transform="rotate(-10 1221.4 277.9)"/>
<ellipse cx="1226.1" cy="285" rx="5.5" ry="2.2" fill="#2a2540" transform="rotate(-10 1226.1 285)"/>
<ellipse cx="1240.2" cy="281.9" rx="5.5" ry="2.2" fill="#2a2540" transform="rotate(-10 1240.2 281.9)"/>
<ellipse cx="1254.3" cy="281.9" rx="5" ry="2" fill="#2a2540" transform="rotate(-10 1254.3 281.9)"/>
<path d="M1219,280 L1214,305" fill="none" stroke="#2a2540" stroke-width="0.9" />
<path d="M1232,287 L1226,310" fill="none" stroke="#2a2540" stroke-width="0.9" />
<path d="M1247,284 L1240,298" fill="none" stroke="#2a2540" stroke-width="0.9" />
<path d="M1218,262 L1219,282" fill="none" stroke="#2a2540" stroke-width="0.9" />
<path d="M1229,262 L1230,280" fill="none" stroke="#2a2540" stroke-width="0.9" />
<path d="M1246,272 L1245,282" fill="none" stroke="#2a2540" stroke-width="0.9" />
<path d="M1260,272 L1259,282" fill="none" stroke="#2a2540" stroke-width="0.9" />
<ellipse cx="1233.9" cy="317.2" rx="5" ry="2.8" fill="#c9e3b6" stroke="#111" stroke-width="1.1" transform="rotate(-20 1233.9 317.2)"/>
<path d="M1038.0,296.0 C1037.3,293.1 1038.5,290.5 1039.6,289.8 C1040.7,289.1 1045.7,293.4 1046.0,291.0 C1046.3,288.6 1042.3,275.9 1042.0,272.0 C1041.7,268.1 1042.8,263.2 1044.0,262.0 C1045.2,260.8 1049.4,261.9 1051.0,263.0 C1052.6,264.1 1054.5,270.1 1056.0,270.0 C1057.5,269.9 1060.7,263.6 1062.0,262.0 C1063.3,260.4 1063.9,257.9 1066.0,258.0 C1068.1,258.1 1072.9,259.9 1078.0,263.0 C1083.1,266.1 1099.9,278.2 1104.0,281.0 C1108.1,283.8 1104.2,283.8 1109.0,283.7 C1113.8,283.6 1131.0,281.0 1140.0,280.0 C1149.0,279.0 1167.9,276.7 1176.7,276.4 C1185.5,276.1 1201.5,275.6 1206.0,277.9 C1210.5,280.2 1207.7,290.1 1210.4,294.0 C1213.1,297.9 1225.2,303.3 1226.6,307.2 C1228.0,311.1 1224.4,319.2 1220.7,323.3 C1217.0,327.4 1204.6,334.5 1198.7,338.0 C1192.8,341.5 1183.6,347.9 1176.7,349.7 C1169.8,351.5 1154.8,351.2 1147.0,351.2 C1139.2,351.2 1124.3,350.3 1118.0,349.7 C1111.7,349.1 1105.8,347.8 1099.7,346.5 C1093.6,345.2 1077.8,342.9 1072.0,340.0 C1066.2,337.1 1059.6,328.8 1056.0,325.0 C1052.4,321.2 1047.1,315.5 1044.7,311.6 C1042.3,307.7 1038.7,298.9 1038.0,296.0Z" fill="#CF5632" stroke="#111" stroke-width="2.2" stroke-linejoin="round"/>
<path d="M1041.0,292.0 C1042.5,293.7 1046.8,298.3 1050.0,302.0 C1053.2,305.7 1057.0,310.3 1060.0,314.0 C1063.0,317.7 1066.7,322.3 1068.0,324.0" fill="none" stroke="#4a180a" stroke-width="9.3" stroke-linecap="round"/>
<path d="M1041.0,292.0 C1042.5,293.7 1046.8,298.3 1050.0,302.0 C1053.2,305.7 1057.0,310.3 1060.0,314.0 C1063.0,317.7 1066.7,322.3 1068.0,324.0" fill="none" stroke="#EF8A56" stroke-width="7.5" stroke-linecap="round"/>
<path d="M1046.0,266.0 C1048.3,268.8 1054.8,277.3 1060.0,283.0 C1065.2,288.7 1071.7,294.2 1077.0,300.0 C1082.3,305.8 1089.5,315.0 1092.0,318.0" fill="none" stroke="#4a180a" stroke-width="11.8" stroke-linecap="round"/>
<path d="M1046.0,266.0 C1048.3,268.8 1054.8,277.3 1060.0,283.0 C1065.2,288.7 1071.7,294.2 1077.0,300.0 C1082.3,305.8 1089.5,315.0 1092.0,318.0" fill="none" stroke="#EF8A56" stroke-width="10" stroke-linecap="round"/>
<path d="M1066.0,262.0 C1069.0,263.7 1078.2,268.0 1084.0,272.0 C1089.8,276.0 1098.2,283.7 1101.0,286.0" fill="none" stroke="#4a180a" stroke-width="10.8" stroke-linecap="round"/>
<path d="M1066.0,262.0 C1069.0,263.7 1078.2,268.0 1084.0,272.0 C1089.8,276.0 1098.2,283.7 1101.0,286.0" fill="none" stroke="#EF8A56" stroke-width="9" stroke-linecap="round"/>
<path d="M1111.0,288.0 C1116.7,287.5 1133.5,286.0 1145.0,285.0 C1156.5,284.0 1174.2,282.5 1180.0,282.0" fill="none" stroke="#4a180a" stroke-width="10.8" stroke-linecap="round"/>
<path d="M1111.0,288.0 C1116.7,287.5 1133.5,286.0 1145.0,285.0 C1156.5,284.0 1174.2,282.5 1180.0,282.0" fill="none" stroke="#EF8A56" stroke-width="9" stroke-linecap="round"/>
<path d="M1156.0,289.0 C1160.8,288.5 1176.5,286.7 1185.0,286.0 C1193.5,285.3 1203.3,285.2 1207.0,285.0" fill="none" stroke="#4a180a" stroke-width="9.8" stroke-linecap="round"/>
<path d="M1156.0,289.0 C1160.8,288.5 1176.5,286.7 1185.0,286.0 C1193.5,285.3 1203.3,285.2 1207.0,285.0" fill="none" stroke="#EF8A56" stroke-width="8" stroke-linecap="round"/>
<path d="M1117.0,299.0 C1124.2,298.7 1144.8,297.5 1160.0,297.0 C1175.2,296.5 1200.0,296.2 1208.0,296.0" fill="none" stroke="#4a180a" stroke-width="10.8" stroke-linecap="round"/>
<path d="M1117.0,299.0 C1124.2,298.7 1144.8,297.5 1160.0,297.0 C1175.2,296.5 1200.0,296.2 1208.0,296.0" fill="none" stroke="#EF8A56" stroke-width="9" stroke-linecap="round"/>
<path d="M1112.0,307.0 C1120.0,306.8 1143.3,306.3 1160.0,306.0 C1176.7,305.7 1203.3,305.2 1212.0,305.0" fill="none" stroke="#4a180a" stroke-width="9.8" stroke-linecap="round"/>
<path d="M1112.0,307.0 C1120.0,306.8 1143.3,306.3 1160.0,306.0 C1176.7,305.7 1203.3,305.2 1212.0,305.0" fill="none" stroke="#EF8A56" stroke-width="8" stroke-linecap="round"/>
<path d="M1097.0,314.0 C1107.5,313.8 1138.8,313.5 1160.0,313.0 C1181.2,312.5 1213.3,311.3 1224.0,311.0" fill="none" stroke="#4a180a" stroke-width="10.8" stroke-linecap="round"/>
<path d="M1097.0,314.0 C1107.5,313.8 1138.8,313.5 1160.0,313.0 C1181.2,312.5 1213.3,311.3 1224.0,311.0" fill="none" stroke="#EF8A56" stroke-width="9" stroke-linecap="round"/>
<path d="M1102.0,323.0 C1111.7,322.8 1140.7,322.5 1160.0,322.0 C1179.3,321.5 1208.3,320.3 1218.0,320.0" fill="none" stroke="#4a180a" stroke-width="10.8" stroke-linecap="round"/>
<path d="M1102.0,323.0 C1111.7,322.8 1140.7,322.5 1160.0,322.0 C1179.3,321.5 1208.3,320.3 1218.0,320.0" fill="none" stroke="#EF8A56" stroke-width="9" stroke-linecap="round"/>
<circle cx="1127.5" cy="338.8" r="0.9" fill="#6a2a14"/>
<circle cx="1119.1" cy="337.0" r="0.9" fill="#6a2a14"/>
<circle cx="1093.4" cy="326.6" r="0.9" fill="#6a2a14"/>
<circle cx="1126.1" cy="334.7" r="0.9" fill="#6a2a14"/>
<circle cx="1168.6" cy="343.3" r="0.9" fill="#6a2a14"/>
<circle cx="1171.6" cy="337.8" r="0.9" fill="#6a2a14"/>
<circle cx="1095.1" cy="336.8" r="0.9" fill="#6a2a14"/>
<circle cx="1134.4" cy="340.5" r="0.9" fill="#6a2a14"/>
<circle cx="1209.2" cy="332.3" r="0.9" fill="#6a2a14"/>
<circle cx="1133.3" cy="338.4" r="0.9" fill="#6a2a14"/>
<circle cx="1170.6" cy="344.4" r="0.9" fill="#6a2a14"/>
<circle cx="1180.4" cy="340.4" r="0.9" fill="#6a2a14"/>
<circle cx="1177.1" cy="341.0" r="0.9" fill="#6a2a14"/>
<circle cx="1192.8" cy="341.5" r="0.9" fill="#6a2a14"/>
<circle cx="1165.2" cy="334.7" r="0.9" fill="#6a2a14"/>
<circle cx="1201.9" cy="336.8" r="0.9" fill="#6a2a14"/>
<circle cx="1154.5" cy="343.4" r="0.9" fill="#6a2a14"/>
<circle cx="1209.3" cy="345.8" r="0.9" fill="#6a2a14"/>
<circle cx="1059.0" cy="329.8" r="0.9" fill="#6a2a14"/>
<circle cx="1106.9" cy="336.9" r="0.9" fill="#6a2a14"/>
<circle cx="1080.8" cy="332.6" r="0.9" fill="#6a2a14"/>
<circle cx="1070.5" cy="329.6" r="0.9" fill="#6a2a14"/>
<circle cx="1206.1" cy="342.1" r="0.9" fill="#6a2a14"/>
<circle cx="1130.6" cy="332.6" r="0.9" fill="#6a2a14"/>
<circle cx="1208.1" cy="341.6" r="0.9" fill="#6a2a14"/>
<circle cx="1090.3" cy="330.0" r="0.9" fill="#6a2a14"/>
<circle cx="1158.7" cy="341.2" r="0.9" fill="#6a2a14"/>
<circle cx="1099.0" cy="345.3" r="0.9" fill="#6a2a14"/>
<circle cx="1108.6" cy="334.8" r="0.9" fill="#6a2a14"/>
<circle cx="1190.7" cy="333.3" r="0.9" fill="#6a2a14"/>
<ellipse cx="1189" cy="341" rx="3.2" ry="2" fill="#c9e3b6" stroke="#111" stroke-width="0.9"/>
<path d="M1246.0,341.0 C1255.2,339.3 1282.0,339.0 1300.0,339.0 C1318.0,339.0 1345.2,339.3 1354.0,341.0 C1362.8,342.7 1354.2,346.8 1353.0,349.0 C1351.8,351.2 1348.3,352.2 1347.0,354.0 C1345.7,355.8 1346.0,358.3 1345.0,360.0 C1344.0,361.7 1342.3,362.5 1341.0,364.0 C1339.7,365.5 1338.7,368.5 1337.0,369.0 C1335.3,369.5 1332.8,366.5 1331.0,367.0 C1329.2,367.5 1327.8,370.7 1326.0,372.0 C1324.2,373.3 1322.0,375.5 1320.0,375.0 C1318.0,374.5 1316.0,369.7 1314.0,369.0 C1312.0,368.3 1309.8,369.2 1308.0,371.0 C1306.2,372.8 1304.8,377.8 1303.0,380.0 C1301.2,382.2 1299.2,384.2 1297.0,384.5 C1294.8,384.8 1291.5,383.9 1290.0,382.0 C1288.5,380.1 1289.3,374.0 1288.0,373.0 C1286.7,372.0 1283.7,374.5 1282.0,376.0 C1280.3,377.5 1279.7,381.2 1278.0,382.0 C1276.3,382.8 1273.5,382.5 1272.0,381.0 C1270.5,379.5 1270.3,375.0 1269.0,373.0 C1267.7,371.0 1265.8,369.0 1264.0,369.0 C1262.2,369.0 1259.9,373.0 1258.0,373.0 C1256.1,373.0 1253.5,371.0 1252.5,369.0 C1251.5,367.0 1252.8,363.2 1252.0,361.0 C1251.2,358.8 1249.2,358.0 1248.0,356.0 C1246.8,354.0 1244.8,351.5 1244.5,349.0 C1244.2,346.5 1236.8,342.7 1246.0,341.0Z" fill="#A362C0" stroke="#111" stroke-width="2" stroke-linejoin="round"/>
<circle cx="1240.5" cy="360.6" r="2.7" fill="#A362C0" stroke="#111" stroke-width="1.3"/>
<circle cx="1256" cy="372.8" r="2.8" fill="#A362C0" stroke="#111" stroke-width="1.3"/>
<circle cx="1359.8" cy="343.1" r="2.4" fill="#A362C0" stroke="#111" stroke-width="1.3"/>
<circle cx="1348.5" cy="358" r="2.5" fill="#A362C0" stroke="#111" stroke-width="1.3"/>
<circle cx="1338.9" cy="370.5" r="2.6" fill="#A362C0" stroke="#111" stroke-width="1.3"/>
<path d="M1244.7,336.5 C1244.7,334.7 1256.4,332.5 1265.6,331.5 C1274.8,330.5 1288.3,330.5 1299.7,330.5 C1311.1,330.5 1324.6,330.5 1333.8,331.5 C1343.0,332.5 1354.7,334.7 1354.7,336.5 C1354.7,338.3 1343.0,341.5 1333.8,342.5 C1324.6,343.5 1311.1,342.5 1299.7,342.5 C1288.3,342.5 1274.8,343.5 1265.6,342.5 C1256.4,341.5 1244.7,338.3 1244.7,336.5Z" fill="#A362C0" stroke="#111" stroke-width="1.8" />
<path d="M1253.0,335.5 C1253.0,334.7 1262.9,333.7 1270.7,333.2 C1278.5,332.8 1290.0,332.8 1299.7,332.8 C1309.4,332.8 1320.9,332.8 1328.7,333.2 C1336.5,333.7 1346.5,334.7 1346.5,335.5 C1346.5,336.3 1336.5,337.8 1328.7,338.2 C1320.9,338.6 1309.4,338.2 1299.7,338.2 C1290.0,338.2 1278.5,338.6 1270.7,338.2 C1262.9,337.8 1253.0,336.3 1253.0,335.5Z" fill="#CB98DD" stroke="#4a1a60" stroke-width="0.7" />
<path d="M1252.0,321.5 C1252.0,319.0 1262.0,316.6 1269.9,315.4 C1277.7,314.3 1289.3,314.5 1299.0,314.5 C1308.7,314.5 1320.3,314.3 1328.1,315.4 C1336.0,316.6 1346.0,319.0 1346.0,321.5 C1346.0,324.0 1336.0,328.6 1328.1,330.1 C1320.3,331.6 1308.7,330.5 1299.0,330.5 C1289.3,330.5 1277.7,331.6 1269.9,330.1 C1262.0,328.6 1252.0,324.0 1252.0,321.5Z" fill="#A362C0" stroke="#111" stroke-width="1.8" />
<path d="M1259.0,320.7 C1259.0,319.6 1267.6,318.7 1274.2,318.2 C1280.9,317.7 1290.7,317.9 1299.0,317.9 C1307.3,317.9 1317.1,317.7 1323.8,318.2 C1330.4,318.7 1339.0,319.6 1339.0,320.7 C1339.0,321.8 1330.4,324.1 1323.8,324.8 C1317.1,325.6 1307.3,325.1 1299.0,325.1 C1290.7,325.1 1280.9,325.6 1274.2,324.8 C1267.6,324.1 1259.0,321.8 1259.0,320.7Z" fill="#CB98DD" stroke="#4a1a60" stroke-width="0.7" />
<path d="M1266.5,311.5 C1266.5,309.7 1273.0,307.9 1278.1,307.1 C1283.2,306.3 1290.7,306.5 1297.0,306.5 C1303.3,306.5 1310.8,306.3 1315.9,307.1 C1321.0,307.9 1327.5,309.7 1327.5,311.5 C1327.5,313.3 1321.0,317.0 1315.9,318.1 C1310.8,319.3 1303.3,318.5 1297.0,318.5 C1290.7,318.5 1283.2,319.3 1278.1,318.1 C1273.0,317.0 1266.5,313.3 1266.5,311.5Z" fill="#A362C0" stroke="#111" stroke-width="1.8" />
<path d="M1271.1,310.7 C1271.1,309.9 1276.6,309.3 1280.9,309.0 C1285.2,308.6 1291.6,308.8 1297.0,308.8 C1302.4,308.8 1308.8,308.6 1313.1,309.0 C1317.4,309.3 1322.9,309.9 1322.9,310.7 C1322.9,311.5 1317.4,313.3 1313.1,313.9 C1308.8,314.5 1302.4,314.2 1297.0,314.2 C1291.6,314.2 1285.2,314.5 1280.9,313.9 C1276.6,313.3 1271.1,311.5 1271.1,310.7Z" fill="#CB98DD" stroke="#4a1a60" stroke-width="0.7" />
<path d="M1279.5,303.0 C1279.5,301.2 1283.1,299.9 1286.0,299.3 C1288.8,298.6 1293.0,299.0 1296.5,299.0 C1300.0,299.0 1304.2,298.6 1307.0,299.3 C1309.9,299.9 1313.5,301.2 1313.5,303.0 C1313.5,304.8 1309.9,309.0 1307.0,310.3 C1304.2,311.6 1300.0,311.0 1296.5,311.0 C1293.0,311.0 1288.8,311.6 1286.0,310.3 C1283.1,309.0 1279.5,304.8 1279.5,303.0Z" fill="#A362C0" stroke="#111" stroke-width="1.8" />
<path d="M1282.0,302.4 C1282.0,301.6 1285.1,301.4 1287.5,301.2 C1289.9,301.0 1293.5,301.3 1296.5,301.3 C1299.5,301.3 1303.1,301.0 1305.5,301.2 C1307.9,301.4 1311.0,301.6 1311.0,302.4 C1311.0,303.2 1307.9,305.4 1305.5,306.1 C1303.1,306.9 1299.5,306.7 1296.5,306.7 C1293.5,306.7 1289.9,306.9 1287.5,306.1 C1285.1,305.4 1282.0,303.2 1282.0,302.4Z" fill="#CB98DD" stroke="#4a1a60" stroke-width="0.7" />
<path d="M1263.0,356.0 C1262.7,355.0 1264.3,348.6 1270.0,346.0 C1275.7,343.4 1287.8,340.8 1297.0,340.5 C1306.2,340.2 1319.3,342.1 1325.0,344.0 C1330.7,345.9 1331.5,351.0 1331.0,352.0 C1330.5,353.0 1327.7,350.8 1322.0,350.0 C1316.3,349.2 1305.3,346.7 1297.0,347.0 C1288.7,347.3 1277.7,350.5 1272.0,352.0 C1266.3,353.5 1263.3,357.0 1263.0,356.0Z" fill="#CB98DD" stroke="#4a1a60" stroke-width="0.8" />
<circle cx="1282" cy="365" r="1.3" fill="#c9e3b6" stroke="#222" stroke-width="0.6"/>
<circle cx="1300" cy="370" r="1.3" fill="#c9e3b6" stroke="#222" stroke-width="0.6"/>
<path d="M1273.5,257.4 C1274.4,254.4 1276.4,250.3 1280.0,248.0 C1283.6,245.7 1289.8,244.4 1295.0,243.5 C1300.2,242.6 1305.5,242.3 1311.0,242.4 C1316.5,242.5 1323.1,243.1 1328.0,243.8 C1332.9,244.5 1335.9,245.3 1340.4,246.8 C1344.9,248.3 1351.3,250.4 1355.0,253.0 C1358.7,255.6 1361.8,259.3 1362.7,262.6 C1363.6,265.9 1361.8,270.3 1360.5,273.0 C1359.2,275.7 1357.6,277.2 1355.0,279.0 C1352.4,280.8 1348.4,282.6 1345.0,283.5 C1341.6,284.4 1337.9,284.6 1334.6,284.4 C1331.3,284.1 1327.9,283.1 1325.0,282.0 C1322.1,280.9 1321.2,279.1 1317.0,278.0 C1312.8,276.9 1304.9,276.1 1300.0,275.5 C1295.1,274.9 1291.3,275.2 1287.6,274.4 C1283.9,273.6 1280.2,271.9 1278.0,270.5 C1275.8,269.1 1275.5,268.4 1274.7,266.2 C1274.0,264.0 1272.6,260.4 1273.5,257.4Z" fill="#F6CD3F" stroke="#111" stroke-width="2" stroke-linejoin="round"/>
<path d="M1278.5,258.0 C1279.5,256.0 1279.6,252.0 1285.0,250.0 C1290.4,248.0 1301.8,246.0 1311.0,246.0 C1320.2,246.0 1332.5,247.9 1340.0,250.0 C1347.5,252.1 1353.0,255.8 1356.0,258.5 C1359.0,261.2 1358.7,263.8 1358.0,266.0 C1357.3,268.2 1356.7,270.8 1352.0,271.5 C1347.3,272.2 1337.8,271.8 1330.0,270.5 C1322.2,269.2 1312.5,265.2 1305.0,264.0 C1297.5,262.8 1289.3,263.3 1285.0,263.0 C1280.7,262.7 1280.1,262.8 1279.0,262.0 C1277.9,261.2 1277.5,260.0 1278.5,258.0Z" fill="#EFA431" stroke="#6a4a10" stroke-width="0.8" />
<path d="M1280.0,258.0 C1280.5,257.0 1283.6,253.1 1285.0,252.5 C1286.4,251.9 1290.7,252.7 1292.0,252.5 C1293.3,252.3 1295.1,250.5 1296.0,250.5 C1296.9,250.5 1299.0,252.5 1300.0,252.5 C1301.0,252.5 1303.6,250.7 1305.0,250.5 C1306.4,250.3 1310.2,251.0 1312.0,251.0 C1313.8,251.0 1317.9,250.4 1320.0,250.5 C1322.1,250.6 1328.6,250.8 1330.0,251.5 C1331.4,252.2 1331.3,256.1 1332.0,256.5 C1332.7,256.9 1335.1,255.1 1336.0,255.0 C1336.9,254.9 1339.2,255.6 1340.0,256.0 C1340.8,256.4 1342.1,258.4 1343.0,258.5 C1343.9,258.6 1346.7,256.8 1348.0,257.0 C1349.3,257.2 1353.2,258.6 1354.0,260.0 C1354.8,261.4 1355.5,267.8 1354.5,269.0 C1353.5,270.2 1347.9,270.6 1345.0,270.5 C1342.1,270.4 1333.2,269.2 1330.0,268.5 C1326.8,267.8 1320.9,265.3 1318.0,264.5 C1315.1,263.7 1308.3,262.4 1305.0,262.0 C1301.7,261.6 1292.8,261.6 1290.0,261.5 C1287.2,261.4 1282.2,261.4 1281.0,261.0 C1279.8,260.6 1279.5,259.0 1280.0,258.0Z" fill="#4BA8DE" stroke="#1b3550" stroke-width="0.9" />
<path d="M1296.0,253.0 C1295.7,254.0 1294.3,258.0 1294.0,259.0" fill="none" stroke="#1d4a78" stroke-width="0.8" />
<path d="M1318.0,256.0 C1317.8,257.2 1317.2,261.8 1317.0,263.0" fill="none" stroke="#1d4a78" stroke-width="0.8" />
<path d="M1336.0,258.0 C1336.2,259.5 1336.8,265.5 1337.0,267.0" fill="none" stroke="#1d4a78" stroke-width="0.8" />
<path d="M1348.0,261.0 C1347.8,262.3 1347.2,267.7 1347.0,269.0" fill="none" stroke="#1d4a78" stroke-width="0.8" />
<circle cx="1285.5" cy="256" r="0.8" fill="#7a2a40"/>
<circle cx="1307" cy="254" r="0.8" fill="#7a2a40"/>
<circle cx="1314" cy="255" r="0.8" fill="#7a2a40"/>
<circle cx="1327" cy="254" r="0.8" fill="#7a2a40"/>
<circle cx="1339" cy="260" r="0.8" fill="#7a2a40"/>
<circle cx="1352" cy="263" r="0.8" fill="#7a2a40"/>
<path d="M1001.0,388.0 C1001.5,384.5 1002.8,380.0 1005.0,377.0 C1007.2,374.0 1009.0,372.1 1014.0,370.0 C1019.0,367.9 1026.8,366.0 1035.0,364.5 C1043.2,363.0 1055.1,361.3 1063.4,361.0 C1071.7,360.7 1078.9,361.4 1085.0,362.5 C1091.1,363.6 1097.0,365.2 1100.0,367.5 C1103.0,369.8 1103.7,373.1 1103.0,376.0 C1102.3,378.9 1099.5,382.2 1096.0,385.0 C1092.5,387.8 1088.0,390.7 1082.0,393.0 C1076.0,395.3 1066.2,397.1 1060.0,399.0 C1053.8,400.9 1050.0,402.4 1045.0,404.2 C1040.0,406.0 1034.2,408.8 1030.0,410.0 C1025.8,411.2 1023.7,412.2 1020.0,411.5 C1016.3,410.8 1011.0,408.2 1008.0,406.0 C1005.0,403.8 1003.2,401.0 1002.0,398.0 C1000.8,395.0 1000.5,391.5 1001.0,388.0Z" fill="#F6CD3F" stroke="#111" stroke-width="2" stroke-linejoin="round"/>
<path d="M1006.0,385.0 C1006.3,381.8 1007.2,378.7 1012.0,376.0 C1016.8,373.3 1026.5,370.8 1035.0,369.0 C1043.5,367.2 1054.2,365.4 1063.0,365.0 C1071.8,364.6 1082.3,365.3 1088.0,366.5 C1093.7,367.7 1095.7,370.1 1097.0,372.0 C1098.3,373.9 1098.8,376.0 1096.0,378.0 C1093.2,380.0 1087.7,382.0 1080.0,384.0 C1072.3,386.0 1059.2,388.0 1050.0,390.0 C1040.8,392.0 1031.7,395.2 1025.0,396.0 C1018.3,396.8 1013.2,396.8 1010.0,395.0 C1006.8,393.2 1005.7,388.2 1006.0,385.0Z" fill="#EFA431" stroke="#6a4a10" stroke-width="0.8" />
<path d="M1009.0,385.0 C1009.2,383.5 1011.7,379.8 1013.0,379.0 C1014.3,378.2 1018.7,378.5 1020.0,378.0 C1021.3,377.5 1022.8,375.2 1024.0,375.0 C1025.2,374.8 1028.8,376.4 1030.0,376.0 C1031.2,375.6 1032.7,372.4 1034.0,372.0 C1035.3,371.6 1039.5,372.8 1041.0,372.5 C1042.5,372.2 1045.4,369.8 1047.0,369.5 C1048.6,369.2 1053.2,370.2 1055.0,370.0 C1056.8,369.8 1060.2,368.2 1062.0,368.0 C1063.8,367.8 1068.1,368.5 1070.0,368.5 C1071.9,368.5 1076.1,367.8 1078.0,368.0 C1079.9,368.2 1084.1,370.0 1086.0,370.5 C1087.9,371.0 1093.0,371.2 1094.0,372.0 C1095.0,372.8 1096.6,375.8 1095.0,377.0 C1093.4,378.2 1084.1,380.9 1080.0,382.0 C1075.9,383.1 1064.7,385.1 1060.0,386.0 C1055.3,386.9 1044.4,388.7 1040.0,389.5 C1035.6,390.3 1025.4,392.7 1022.0,393.0 C1018.6,393.3 1012.5,392.9 1011.0,392.0 C1009.5,391.1 1008.8,386.5 1009.0,385.0Z" fill="#4BA8DE" stroke="#1b3550" stroke-width="0.9" />
<path d="M1024.0,379.0 C1023.7,380.7 1022.3,387.3 1022.0,389.0" fill="none" stroke="#1d4a78" stroke-width="0.8" />
<path d="M1041.0,375.0 C1040.8,376.8 1040.2,384.2 1040.0,386.0" fill="none" stroke="#1d4a78" stroke-width="0.8" />
<path d="M1062.0,371.0 C1061.8,372.7 1061.2,379.3 1061.0,381.0" fill="none" stroke="#1d4a78" stroke-width="0.8" />
<path d="M1080.0,371.0 C1080.0,372.5 1080.0,378.5 1080.0,380.0" fill="none" stroke="#1d4a78" stroke-width="0.8" />
<circle cx="1016" cy="383" r="0.8" fill="#7a2a40"/>
<circle cx="1033" cy="381" r="0.8" fill="#7a2a40"/>
<circle cx="1048" cy="376" r="0.8" fill="#7a2a40"/>
<circle cx="1055" cy="380" r="0.8" fill="#7a2a40"/>
<circle cx="1070" cy="373" r="0.8" fill="#7a2a40"/>
<circle cx="1088" cy="375" r="0.8" fill="#7a2a40"/>
<path d="M1249.5,213 A20,10.5 0 0 1 1289.5,213 C1289.5,227.4 1281.5,231 1269.5,231 C1257.5,231 1249.5,227.4 1249.5,213Z" fill="#5B8ED6" stroke="#111" stroke-width="1.8" />
<ellipse cx="1269.5" cy="214" rx="17" ry="8.0" fill="#8DC3B6" stroke="#223" stroke-width="0.8"/>
<circle cx="1261.9" cy="211.0" r="1" fill="none" stroke="#a08030" stroke-width="0.7"/>
<circle cx="1265.7" cy="211.4" r="1" fill="none" stroke="#a08030" stroke-width="0.7"/>
<circle cx="1269.3" cy="214.7" r="1" fill="none" stroke="#a08030" stroke-width="0.7"/>
<circle cx="1273.4" cy="212.2" r="1" fill="none" stroke="#a08030" stroke-width="0.7"/>
<circle cx="1277.7" cy="211.4" r="1" fill="none" stroke="#a08030" stroke-width="0.7"/>
<path d="M1142,398 A25,10.5 0 0 1 1192,398 C1192,414.0 1182.0,418 1167,418 C1152.0,418 1142,414.0 1142,398Z" fill="#5B8ED6" stroke="#111" stroke-width="1.8" />
<ellipse cx="1167" cy="399" rx="22" ry="8.0" fill="#8DC3B6" stroke="#223" stroke-width="0.8"/>
<circle cx="1158.3" cy="396.9" r="1" fill="none" stroke="#a08030" stroke-width="0.7"/>
<circle cx="1162.5" cy="395.9" r="1" fill="none" stroke="#a08030" stroke-width="0.7"/>
<circle cx="1167.9" cy="395.2" r="1" fill="none" stroke="#a08030" stroke-width="0.7"/>
<circle cx="1171.6" cy="399.7" r="1" fill="none" stroke="#a08030" stroke-width="0.7"/>
<circle cx="1175.4" cy="395.1" r="1" fill="none" stroke="#a08030" stroke-width="0.7"/>
<path d="M969.0,266.0 C969.4,264.0 970.9,260.8 972.0,260.0 C973.1,259.2 978.6,258.6 980.0,258.5 C981.4,258.4 984.9,258.6 986.0,259.0 C987.1,259.4 990.4,259.4 991.0,262.0 C991.6,264.6 992.7,282.3 992.0,285.0 C991.3,287.7 986.0,288.7 984.0,289.0 C982.0,289.3 973.6,288.9 972.0,288.0 C970.4,287.1 968.3,282.2 968.0,280.0 C967.7,277.8 968.6,268.0 969.0,266.0Z" fill="#E6BE35" stroke="#5a4010" stroke-width="1.5" />
<path d="M970.5,261 L970.0,286" fill="none" stroke="#8a6618" stroke-width="0.8" />
<path d="M973.6,261 L973.1,286" fill="none" stroke="#8a6618" stroke-width="0.8" />
<path d="M976.7,261 L976.2,286" fill="none" stroke="#8a6618" stroke-width="0.8" />
<path d="M979.8,261 L979.3,286" fill="none" stroke="#8a6618" stroke-width="0.8" />
<path d="M982.9,261 L982.4,286" fill="none" stroke="#8a6618" stroke-width="0.8" />
<path d="M986.0,261 L985.5,286" fill="none" stroke="#8a6618" stroke-width="0.8" />
<path d="M989.1,261 L988.6,286" fill="none" stroke="#8a6618" stroke-width="0.8" />
<path d="M969,274 Q980,270 991,273" fill="none" stroke="#7a5a14" stroke-width="0.8" />
<g transform="rotate(-24 982 296)">
<rect x="964" y="285" width="36" height="22" rx="6" fill="#E6BE35" stroke="#5a4010" stroke-width="1.5"/>
<line x1="966" y1="288.0" x2="998" y2="288.0" stroke="#8a6618" stroke-width="0.8"/>
<line x1="966" y1="291.3" x2="998" y2="291.3" stroke="#8a6618" stroke-width="0.8"/>
<line x1="966" y1="294.6" x2="998" y2="294.6" stroke="#8a6618" stroke-width="0.8"/>
<line x1="966" y1="297.9" x2="998" y2="297.9" stroke="#8a6618" stroke-width="0.8"/>
<line x1="966" y1="301.2" x2="998" y2="301.2" stroke="#8a6618" stroke-width="0.8"/>
<line x1="966" y1="304.5" x2="998" y2="304.5" stroke="#8a6618" stroke-width="0.8"/>
<line x1="976" y1="285" x2="976" y2="307" stroke="#5a4010" stroke-width="1"/>
</g>
<text x="887" y="111" font-family="Liberation Sans" font-weight="bold" font-size="31.5" fill="#0a0a0a" textLength="168.5" lengthAdjust="spacingAndGlyphs">Animal Cell</text>
<text x="1271.6" y="109" font-family="Liberation Sans" font-size="12.6" fill="#3b3b3b" textLength="44.2" lengthAdjust="spacingAndGlyphs">Nucleus</text>
<text x="1364.7" y="114" font-family="Liberation Sans" font-size="12.6" fill="#3b3b3b" textLength="53.6" lengthAdjust="spacingAndGlyphs">Lysosome</text>
<text x="1161.2" y="123.8" font-family="Liberation Sans" font-size="12.6" fill="#3b3b3b" textLength="54" lengthAdjust="spacingAndGlyphs">Nucleolus</text>
<text x="977.4" y="155" font-family="Liberation Sans" font-size="12.6" fill="#3b3b3b" textLength="59.4" lengthAdjust="spacingAndGlyphs">Chromatin</text>
<text x="901.9" y="179.3" font-family="Liberation Sans" font-size="12.6" fill="#3b3b3b" textLength="55.1" lengthAdjust="spacingAndGlyphs">Centrioles</text>
<text x="1399" y="149.2" font-family="Liberation Sans" font-size="12.6" fill="#3b3b3b" textLength="42.8" lengthAdjust="spacingAndGlyphs">Smooth</text>
<text x="1399" y="163.7" font-family="Liberation Sans" font-size="12.6" fill="#3b3b3b" textLength="72" lengthAdjust="spacingAndGlyphs">Endoplasmic</text>
<text x="1399" y="177.6" font-family="Liberation Sans" font-size="12.6" fill="#3b3b3b" textLength="55.5" lengthAdjust="spacingAndGlyphs">Reticulum</text>
<text x="879.5" y="475.7" font-family="Liberation Sans" font-size="12.6" fill="#3b3b3b" textLength="73" lengthAdjust="spacingAndGlyphs">Cytoskeleton</text>
<text x="908.4" y="504.1" font-family="Liberation Sans" font-size="12.6" fill="#3b3b3b" textLength="75.2" lengthAdjust="spacingAndGlyphs">Mitochondria</text>
<text x="936" y="533.1" font-family="Liberation Sans" font-size="12.6" fill="#3b3b3b" textLength="106.3" lengthAdjust="spacingAndGlyphs">Plasma Membrane</text>
<text x="1066.1" y="532.2" font-family="Liberation Sans" font-size="12.6" fill="#3b3b3b" textLength="59.6" lengthAdjust="spacingAndGlyphs">Cytoplasm</text>
<text x="1163.4" y="527.8" font-family="Liberation Sans" font-size="12.6" fill="#3b3b3b" textLength="59.6" lengthAdjust="spacingAndGlyphs">Ribosomes</text>
<text x="1288.4" y="496.5" font-family="Liberation Sans" font-size="12.6" fill="#3b3b3b" textLength="172.6" lengthAdjust="spacingAndGlyphs">Rough Endoplasmic Reticulum</text>
<text x="1376.1" y="437.5" font-family="Liberation Sans" font-size="12.6" fill="#3b3b3b" textLength="93" lengthAdjust="spacingAndGlyphs">Golgi Apparatus</text>
<path d="M934.5,184.2 L977.2,263.4" fill="none" stroke="#1a1a1a" stroke-width="1.0" />
<circle cx="977.2" cy="263.4" r="1.6" fill="#1a1a1a"/>
<path d="M1012.7,159.6 L1099.5,223.3" fill="none" stroke="#1a1a1a" stroke-width="1.0" />
<circle cx="1099.5" cy="223.3" r="1.6" fill="#1a1a1a"/>
<path d="M1180,128.5 L1143.6,212.6" fill="none" stroke="#1a1a1a" stroke-width="1.0" />
<circle cx="1143.6" cy="212.6" r="1.6" fill="#1a1a1a"/>
<path d="M1266.9,112 L1186.7,167.6" fill="none" stroke="#1a1a1a" stroke-width="1.0" />
<circle cx="1186.7" cy="167.6" r="1.6" fill="#1a1a1a"/>
<path d="M1373.3,120.6 L1266.9,207.9" fill="none" stroke="#1a1a1a" stroke-width="1.0" />
<circle cx="1266.9" cy="207.9" r="1.6" fill="#1a1a1a"/>
<path d="M1392,158 L1236,265" fill="none" stroke="#1a1a1a" stroke-width="1.0" />
<circle cx="1236" cy="265" r="1.6" fill="#1a1a1a"/>
<path d="M903.8,459.2 L951.5,354.7" fill="none" stroke="#1a1a1a" stroke-width="1.0" />
<circle cx="951.5" cy="354.7" r="1.6" fill="#1a1a1a"/>
<path d="M966.2,492.2 L1023,406" fill="none" stroke="#1a1a1a" stroke-width="1.0" />
<circle cx="1023" cy="406" r="1.6" fill="#1a1a1a"/>
<path d="M1013,518.8 L1035,465.6" fill="none" stroke="#1a1a1a" stroke-width="1.0" />
<circle cx="1035" cy="465.6" r="1.6" fill="#1a1a1a"/>
<path d="M1104.6,517 L1132.2,425.3" fill="none" stroke="#1a1a1a" stroke-width="1.0" />
<circle cx="1132.2" cy="425.3" r="1.6" fill="#1a1a1a"/>
<path d="M1197.4,517.1 L1225.7,408.2" fill="none" stroke="#1a1a1a" stroke-width="1.0" />
<circle cx="1225.7" cy="408.2" r="1.6" fill="#1a1a1a"/>
<path d="M1295.4,480.3 L1192,322" fill="none" stroke="#1a1a1a" stroke-width="1.0" />
<circle cx="1192" cy="322" r="1.6" fill="#1a1a1a"/>
<path d="M1388.7,425.4 L1306.4,358" fill="none" stroke="#1a1a1a" stroke-width="1.0" />
<circle cx="1306.4" cy="358" r="1.6" fill="#1a1a1a"/>
<path d="M1012.6,772.0 C1012.8,756.4 1012.2,737.9 1015.0,726.7 C1017.8,715.6 1023.4,711.1 1029.5,705.0 C1035.5,698.9 1041.6,693.8 1051.3,690.1 C1061.0,686.3 1074.4,684.0 1087.6,682.3 C1100.8,680.6 1105.2,680.4 1130.5,679.9 C1155.9,679.4 1210.2,677.7 1239.5,679.3 C1268.9,680.9 1288.1,685.0 1306.8,689.3 C1325.5,693.6 1338.6,697.9 1351.7,705.0 C1364.8,712.1 1376.8,722.5 1385.4,731.9 C1394.0,741.2 1399.4,751.6 1403.4,760.9 C1407.3,770.2 1408.4,777.7 1409.0,787.8 C1409.6,797.8 1408.8,811.2 1406.7,821.3 C1404.7,831.3 1402.7,839.6 1396.6,848.1 C1390.6,856.7 1379.2,865.2 1370.4,872.5 C1361.5,879.9 1357.0,882.5 1343.6,892.3 C1330.3,902.1 1309.8,919.3 1290.3,931.5 C1270.8,943.7 1247.9,956.6 1226.7,965.4 C1205.5,974.2 1180.7,980.0 1163.0,984.4 C1145.4,988.8 1135.7,991.4 1120.6,991.8 C1105.6,992.2 1086.8,988.9 1072.8,986.9 C1058.7,984.8 1047.9,983.3 1036.4,979.6 C1024.9,976.0 1012.8,971.2 1003.7,965.1 C994.6,959.1 986.9,950.6 981.9,943.4 C976.9,936.1 975.0,928.6 973.8,921.6 C972.6,914.7 972.7,908.6 974.7,901.7 C976.6,894.7 980.7,886.9 985.6,880.0 C990.4,873.0 999.1,866.6 1003.7,860.0 C1008.2,853.4 1011.2,846.8 1012.8,840.1 C1014.5,833.5 1013.6,831.5 1013.6,820.2 C1013.6,808.8 1012.4,787.5 1012.6,772.0Z" fill="#DCE3EE" stroke="none" stroke-width="0" />
<path d="M1012.6,772.0 C1012.8,756.4 1012.2,737.9 1015.0,726.7 C1017.8,715.6 1023.4,711.1 1029.5,705.0 C1035.5,698.9 1041.6,693.8 1051.3,690.1 C1061.0,686.3 1074.4,684.0 1087.6,682.3 C1100.8,680.6 1105.2,680.4 1130.5,679.9 C1155.9,679.4 1210.2,677.7 1239.5,679.3 C1268.9,680.9 1288.1,685.0 1306.8,689.3 C1325.5,693.6 1338.6,697.9 1351.7,705.0 C1364.8,712.1 1376.8,722.5 1385.4,731.9 C1394.0,741.2 1399.4,751.6 1403.4,760.9 C1407.3,770.2 1408.4,777.7 1409.0,787.8 C1409.6,797.8 1408.8,811.2 1406.7,821.3 C1404.7,831.3 1402.7,839.6 1396.6,848.1 C1390.6,856.7 1379.2,865.2 1370.4,872.5 C1361.5,879.9 1357.0,882.5 1343.6,892.3 C1330.3,902.1 1309.8,919.3 1290.3,931.5 C1270.8,943.7 1247.9,956.6 1226.7,965.4 C1205.5,974.2 1180.7,980.0 1163.0,984.4 C1145.4,988.8 1135.7,991.4 1120.6,991.8 C1105.6,992.2 1086.8,988.9 1072.8,986.9 C1058.7,984.8 1047.9,983.3 1036.4,979.6 C1024.9,976.0 1012.8,971.2 1003.7,965.1 C994.6,959.1 986.9,950.6 981.9,943.4 C976.9,936.1 975.0,928.6 973.8,921.6 C972.6,914.7 972.7,908.6 974.7,901.7 C976.6,894.7 980.7,886.9 985.6,880.0 C990.4,873.0 999.1,866.6 1003.7,860.0 C1008.2,853.4 1011.2,846.8 1012.8,840.1 C1014.5,833.5 1013.6,831.5 1013.6,820.2 C1013.6,808.8 1012.4,787.5 1012.6,772.0Z" fill="none" stroke="#454545" stroke-width="5.2" />
<path d="M1012.6,772.0 C1012.8,756.4 1012.2,737.9 1015.0,726.7 C1017.8,715.6 1023.4,711.1 1029.5,705.0 C1035.5,698.9 1041.6,693.8 1051.3,690.1 C1061.0,686.3 1074.4,684.0 1087.6,682.3 C1100.8,680.6 1105.2,680.4 1130.5,679.9 C1155.9,679.4 1210.2,677.7 1239.5,679.3 C1268.9,680.9 1288.1,685.0 1306.8,689.3 C1325.5,693.6 1338.6,697.9 1351.7,705.0 C1364.8,712.1 1376.8,722.5 1385.4,731.9 C1394.0,741.2 1399.4,751.6 1403.4,760.9 C1407.3,770.2 1408.4,777.7 1409.0,787.8 C1409.6,797.8 1408.8,811.2 1406.7,821.3 C1404.7,831.3 1402.7,839.6 1396.6,848.1 C1390.6,856.7 1379.2,865.2 1370.4,872.5 C1361.5,879.9 1357.0,882.5 1343.6,892.3 C1330.3,902.1 1309.8,919.3 1290.3,931.5 C1270.8,943.7 1247.9,956.6 1226.7,965.4 C1205.5,974.2 1180.7,980.0 1163.0,984.4 C1145.4,988.8 1135.7,991.4 1120.6,991.8 C1105.6,992.2 1086.8,988.9 1072.8,986.9 C1058.7,984.8 1047.9,983.3 1036.4,979.6 C1024.9,976.0 1012.8,971.2 1003.7,965.1 C994.6,959.1 986.9,950.6 981.9,943.4 C976.9,936.1 975.0,928.6 973.8,921.6 C972.6,914.7 972.7,908.6 974.7,901.7 C976.6,894.7 980.7,886.9 985.6,880.0 C990.4,873.0 999.1,866.6 1003.7,860.0 C1008.2,853.4 1011.2,846.8 1012.8,840.1 C1014.5,833.5 1013.6,831.5 1013.6,820.2 C1013.6,808.8 1012.4,787.5 1012.6,772.0Z" fill="none" stroke="#fbfcfd" stroke-width="2.4" />
<ellipse cx="1109.7" cy="694.2" rx="12.8" ry="8.3" fill="#C8DFC4" stroke="#7DB47A" stroke-width="1.2" transform="rotate(-5 1109.7 694.2)"/>
<ellipse cx="1076.7" cy="816.4" rx="10.3" ry="14.7" fill="#C8DFC4" stroke="#7DB47A" stroke-width="1.2" transform="rotate(0 1076.7 816.4)"/>
<ellipse cx="1264.9" cy="808.5" rx="10.5" ry="13.8" fill="#C8DFC4" stroke="#7DB47A" stroke-width="1.2" transform="rotate(38 1264.9 808.5)"/>
<ellipse cx="1104.7" cy="895.2" rx="12.8" ry="14.8" fill="#C8DFC4" stroke="#7DB47A" stroke-width="1.2" transform="rotate(-35 1104.7 895.2)"/>
<ellipse cx="1172.4" cy="919.9" rx="9.6" ry="13.9" fill="#C8DFC4" stroke="#7DB47A" stroke-width="1.2" transform="rotate(15 1172.4 919.9)"/>
<circle cx="1228.3" cy="702.7" r="6.5" fill="#D8B9DE" stroke="#B98BC9" stroke-width="1.3"/>
<circle cx="1302.3" cy="718.1" r="6.3" fill="#D8B9DE" stroke="#B98BC9" stroke-width="1.3"/>
<circle cx="1295.5" cy="816.1" r="6.4" fill="#D8B9DE" stroke="#B98BC9" stroke-width="1.3"/>
<circle cx="1042.4" cy="840.2" r="6.2" fill="#D8B9DE" stroke="#B98BC9" stroke-width="1.3"/>
<circle cx="1020.4" cy="935.2" r="6.4" fill="#D8B9DE" stroke="#B98BC9" stroke-width="1.3"/>
<circle cx="1200.9" cy="968" r="6.4" fill="#D8B9DE" stroke="#B98BC9" stroke-width="1.3"/>
<g transform="rotate(83 1274.5 760.2)">
<ellipse cx="1274.5" cy="760.2" rx="16.7" ry="9.2" fill="#9A6430" stroke="#3a2410" stroke-width="1.2"/>
<polyline points="1261.5,757.9 1263.6,763.9 1265.8,755.7 1268.0,765.3 1270.2,754.8 1272.3,765.8 1274.5,754.5 1276.7,765.8 1278.8,754.8 1281.0,765.3 1283.2,755.7 1285.4,763.9 1287.5,757.9" fill="none" stroke="#E9CF94" stroke-width="1.5"/>
</g>
<g transform="rotate(15 1023.8 875.5)">
<ellipse cx="1023.8" cy="875.5" rx="17" ry="9.6" fill="#9A6430" stroke="#3a2410" stroke-width="1.2"/>
<polyline points="1010.5,873.1 1012.6,879.3 1014.6,870.9 1016.7,880.7 1018.7,869.9 1020.7,881.3 1022.8,869.6 1024.8,881.4 1026.9,869.7 1028.9,881.1 1030.9,870.3 1033.0,880.1 1035.0,871.7 1037.1,877.9" fill="none" stroke="#E9CF94" stroke-width="1.5"/>
</g>
<g transform="rotate(-5 1079 964.9)">
<ellipse cx="1079" cy="964.9" rx="17.4" ry="9.2" fill="#9A6430" stroke="#3a2410" stroke-width="1.2"/>
<polyline points="1065.4,962.6 1067.5,968.5 1069.6,960.5 1071.7,969.9 1073.8,959.6 1075.9,970.5 1078.0,959.2 1080.0,970.6 1082.1,959.3 1084.2,970.2 1086.3,959.9 1088.4,969.3 1090.5,961.3 1092.6,967.2" fill="none" stroke="#E9CF94" stroke-width="1.5"/>
</g>
<g transform="rotate(38 1138.7 946.5)">
<ellipse cx="1138.7" cy="946.5" rx="17.5" ry="9.4" fill="#9A6430" stroke="#3a2410" stroke-width="1.2"/>
<polyline points="1125.0,944.2 1127.1,950.2 1129.2,942.0 1131.3,951.6 1133.5,941.0 1135.5,952.2 1137.6,940.7 1139.8,952.3 1141.8,940.8 1144.0,952.0 1146.0,941.4 1148.1,951.0 1150.2,942.8 1152.3,948.8" fill="none" stroke="#E9CF94" stroke-width="1.5"/>
</g>
<g transform="rotate(-48 1288.7 857.3)">
<ellipse cx="1288.7" cy="857.3" rx="13.8" ry="8.8" fill="#9A6430" stroke="#3a2410" stroke-width="1.2"/>
<polyline points="1277.9,855.1 1280.1,861.0 1282.2,852.7 1284.4,862.4 1286.5,851.9 1288.7,862.8 1290.9,851.9 1293.0,862.4 1295.2,852.7 1297.3,861.0 1299.5,855.1" fill="none" stroke="#E9CF94" stroke-width="1.5"/>
</g>
<circle cx="1020" cy="903.4" r="2.3" fill="#C8302A" stroke="#6a1a1a" stroke-width="0.8"/>
<circle cx="1027.4" cy="901" r="2.3" fill="#C8302A" stroke="#6a1a1a" stroke-width="0.8"/>
<circle cx="1015.5" cy="912.5" r="2.3" fill="#C8302A" stroke="#6a1a1a" stroke-width="0.8"/>
<circle cx="1022.5" cy="911.4" r="2.3" fill="#C8302A" stroke="#6a1a1a" stroke-width="0.8"/>
<circle cx="1030.2" cy="908.8" r="2.3" fill="#C8302A" stroke="#6a1a1a" stroke-width="0.8"/>
<circle cx="1036.2" cy="911.4" r="2.3" fill="#C8302A" stroke="#6a1a1a" stroke-width="0.8"/>
<circle cx="1025.1" cy="918.5" r="2.3" fill="#C8302A" stroke="#6a1a1a" stroke-width="0.8"/>
<circle cx="1032.5" cy="916.7" r="2.3" fill="#C8302A" stroke="#6a1a1a" stroke-width="0.8"/>
<circle cx="1144.2" cy="862.2" r="2.3" fill="#C8302A" stroke="#6a1a1a" stroke-width="0.8"/>
<circle cx="1136.2" cy="867.4" r="2.3" fill="#C8302A" stroke="#6a1a1a" stroke-width="0.8"/>
<circle cx="1142.4" cy="871.4" r="2.3" fill="#C8302A" stroke="#6a1a1a" stroke-width="0.8"/>
<circle cx="1128.8" cy="870.4" r="2.3" fill="#C8302A" stroke="#6a1a1a" stroke-width="0.8"/>
<circle cx="1128.8" cy="875.5" r="2.3" fill="#C8302A" stroke="#6a1a1a" stroke-width="0.8"/>
<circle cx="1136.9" cy="875.5" r="2.3" fill="#C8302A" stroke="#6a1a1a" stroke-width="0.8"/>
<circle cx="1146.3" cy="878.2" r="2.3" fill="#C8302A" stroke="#6a1a1a" stroke-width="0.8"/>
<circle cx="1300.8" cy="887.3" r="2.3" fill="#C8302A" stroke="#6a1a1a" stroke-width="0.8"/>
<circle cx="1308.3" cy="885.2" r="2.3" fill="#C8302A" stroke="#6a1a1a" stroke-width="0.8"/>
<circle cx="1296.5" cy="896.8" r="2.3" fill="#C8302A" stroke="#6a1a1a" stroke-width="0.8"/>
<circle cx="1303.6" cy="895.3" r="2.3" fill="#C8302A" stroke="#6a1a1a" stroke-width="0.8"/>
<circle cx="1311" cy="893.1" r="2.3" fill="#C8302A" stroke="#6a1a1a" stroke-width="0.8"/>
<circle cx="1306.1" cy="902.3" r="2.3" fill="#C8302A" stroke="#6a1a1a" stroke-width="0.8"/>
<circle cx="1313.6" cy="901" r="2.3" fill="#C8302A" stroke="#6a1a1a" stroke-width="0.8"/>
<path d="M1144.0,774.0 C1146.6,770.7 1148.0,766.3 1154.5,764.5 C1161.0,762.7 1172.8,762.9 1182.7,763.4 C1192.6,763.9 1204.4,764.5 1214.0,767.6 C1223.6,770.8 1234.7,776.4 1240.2,782.3 C1245.7,788.2 1245.8,795.2 1247.0,803.0 C1248.2,810.8 1248.6,823.2 1247.5,829.0 C1246.4,834.8 1247.5,835.8 1240.2,837.6 C1232.9,839.4 1214.9,838.8 1203.6,839.7 C1192.3,840.6 1181.9,842.8 1172.3,843.0 C1162.7,843.2 1151.9,844.0 1146.0,840.8 C1140.1,837.6 1138.6,830.3 1136.7,824.0 C1134.8,817.7 1134.2,809.6 1134.6,803.0 C1134.9,796.4 1137.2,789.1 1138.8,784.3 C1140.4,779.5 1141.4,777.3 1144.0,774.0Z" fill="#8DA87A" stroke="#3A82A0" stroke-width="2.1" />
<circle cx="1218.9" cy="804.1" r="16.8" fill="#F8CD62" stroke="#DCA346" stroke-width="1.3"/>
<polygon points="1240.3,734.2 1242.6,739.2 1247.0,736.0 1246.5,741.5 1252.0,741.0 1248.8,745.4 1253.8,747.7 1248.8,750.0 1252.0,754.5 1246.5,753.9 1247.0,759.4 1242.6,756.2 1240.3,761.2 1238.0,756.2 1233.5,759.4 1234.1,753.9 1228.6,754.5 1231.8,750.0 1226.8,747.7 1231.8,745.4 1228.6,741.0 1234.1,741.5 1233.5,736.0 1238.0,739.2" fill="#DCE9D0" stroke="#55A845" stroke-width="1.6"/>
<circle cx="1240.3" cy="747.7" r="6.2" fill="#F7C06A" stroke="#E8A848" stroke-width="0.6"/>
<path d="M1353.0,721.0 C1354.5,725.0 1359.5,734.0 1362.0,745.0 C1364.5,756.0 1367.3,773.7 1368.0,787.0 C1368.7,800.3 1367.7,814.5 1366.0,825.0 C1364.3,835.5 1359.3,845.8 1358.0,850.0" fill="none" stroke="#3a3a3a" stroke-width="10.6" stroke-linecap="round"/>
<path d="M1353.0,721.0 C1354.5,725.0 1359.5,734.0 1362.0,745.0 C1364.5,756.0 1367.3,773.7 1368.0,787.0 C1368.7,800.3 1367.7,814.5 1366.0,825.0 C1364.3,835.5 1359.3,845.8 1358.0,850.0" fill="none" stroke="#D5E0E3" stroke-width="8.2" stroke-linecap="round"/>
<path d="M1341.0,730.0 C1342.7,733.7 1348.3,742.5 1351.0,752.0 C1353.7,761.5 1356.5,776.5 1357.0,787.0 C1357.5,797.5 1356.0,807.2 1354.0,815.0 C1352.0,822.8 1346.5,830.8 1345.0,834.0" fill="none" stroke="#3a3a3a" stroke-width="10.4" stroke-linecap="round"/>
<path d="M1341.0,730.0 C1342.7,733.7 1348.3,742.5 1351.0,752.0 C1353.7,761.5 1356.5,776.5 1357.0,787.0 C1357.5,797.5 1356.0,807.2 1354.0,815.0 C1352.0,822.8 1346.5,830.8 1345.0,834.0" fill="none" stroke="#D5E0E3" stroke-width="8" stroke-linecap="round"/>
<path d="M1335.0,748.0 C1336.3,750.8 1341.0,758.5 1343.0,765.0 C1345.0,771.5 1346.8,779.5 1347.0,787.0 C1347.2,794.5 1345.5,804.0 1344.0,810.0 C1342.5,816.0 1339.0,820.8 1338.0,823.0" fill="none" stroke="#3a3a3a" stroke-width="9.6" stroke-linecap="round"/>
<path d="M1335.0,748.0 C1336.3,750.8 1341.0,758.5 1343.0,765.0 C1345.0,771.5 1346.8,779.5 1347.0,787.0 C1347.2,794.5 1345.5,804.0 1344.0,810.0 C1342.5,816.0 1339.0,820.8 1338.0,823.0" fill="none" stroke="#D5E0E3" stroke-width="7.2" stroke-linecap="round"/>
<ellipse cx="1328.3" cy="709.5" rx="4.9" ry="3.8" fill="#D5E0E3" stroke="#3a3a3a" stroke-width="1.2"/>
<ellipse cx="1335.2" cy="718.5" rx="3" ry="4.4" fill="#D5E0E3" stroke="#3a3a3a" stroke-width="1.2"/>
<ellipse cx="1329.6" cy="733" rx="5.6" ry="5" fill="#D5E0E3" stroke="#3a3a3a" stroke-width="1.2"/>
<path d="M1081.5,787.8 L1092.4,777.3 L1105.5,766.0 L1118.6,752.9 L1129.0,738.1 L1138.6,725.0 L1146.0,713.3 L1143.8,721.6 L1136.0,734.6 L1127.3,746.8 L1122.0,756.4 L1130.7,748.6 L1142.9,736.4 L1153.4,722.4 L1160.4,715.0 L1157.8,725.0 L1149.0,738.1 L1138.6,750.3 L1129.0,762.5 L1141.2,755.5 L1153.4,745.9 L1162.1,737.2 L1168.2,726.8 L1170.8,724.6 L1170.4,730.3 L1162.1,743.3 L1149.0,757.3 L1136.0,769.5 L1129.0,774.7 L1123.8,783.4 L1112.5,799.9 L1118.6,783.4 L1122.0,773.8 L1114.2,780.8 L1098.5,794.7 L1101.1,787.8 L1111.6,774.7 L1115.9,764.2 L1105.5,772.9 L1092.4,781.7 L1083.7,787.8Z" fill="#EDEA55" stroke="#A8A640" stroke-width="0.9" stroke-linejoin="round"/>
<path d="M1159.5,862.0 L1181.8,858.8 L1205.6,855.7 L1229.5,850.9 L1256.5,846.5 L1253.3,850.1 L1229.5,855.7 L1210.4,862.0 L1229.5,861.2 L1245.4,858.8 L1264.4,857.6 L1262.8,860.4 L1245.4,865.2 L1225.5,870.0 L1208.8,874.7 L1221.5,877.9 L1245.4,876.3 L1264.4,870.0 L1267.6,870.8 L1265.2,874.7 L1245.4,880.3 L1221.5,882.7 L1209.6,885.1 L1193.7,889.0 L1173.8,890.6 L1185.8,884.3 L1199.3,877.9 L1185.8,877.9 L1168.3,878.3 L1181.8,872.3 L1199.3,867.6 L1202.4,864.4 L1189.7,865.2 L1173.8,864.4 L1160.3,863.6Z" fill="#EDEA55" stroke="#A8A640" stroke-width="0.9" stroke-linejoin="round"/>
<circle cx="1082.0" cy="786.9" r="2.1" fill="#D5DCE8" stroke="#45454d" stroke-width="1.05"/>
<circle cx="1085.5" cy="776.4" r="2.1" fill="#D5DCE8" stroke="#45454d" stroke-width="1.05"/>
<circle cx="1091.6" cy="772.1" r="2.1" fill="#D5DCE8" stroke="#45454d" stroke-width="1.05"/>
<circle cx="1096.8" cy="767.3" r="2.1" fill="#D5DCE8" stroke="#45454d" stroke-width="1.05"/>
<circle cx="1101.6" cy="762.5" r="2.1" fill="#D5DCE8" stroke="#45454d" stroke-width="1.05"/>
<circle cx="1106.4" cy="757.7" r="2.1" fill="#D5DCE8" stroke="#45454d" stroke-width="1.05"/>
<circle cx="1114.6" cy="747.7" r="2.1" fill="#D5DCE8" stroke="#45454d" stroke-width="1.05"/>
<circle cx="1119.4" cy="741.1" r="2.1" fill="#D5DCE8" stroke="#45454d" stroke-width="1.05"/>
<circle cx="1123.8" cy="735.5" r="2.1" fill="#D5DCE8" stroke="#45454d" stroke-width="1.05"/>
<circle cx="1128.1" cy="729.4" r="2.1" fill="#D5DCE8" stroke="#45454d" stroke-width="1.05"/>
<circle cx="1134.2" cy="722.0" r="2.1" fill="#D5DCE8" stroke="#45454d" stroke-width="1.05"/>
<circle cx="1139.5" cy="715.9" r="2.1" fill="#D5DCE8" stroke="#45454d" stroke-width="1.05"/>
<circle cx="1088.9" cy="784.7" r="2.1" fill="#D5DCE8" stroke="#45454d" stroke-width="1.05"/>
<circle cx="1093.7" cy="780.8" r="2.1" fill="#D5DCE8" stroke="#45454d" stroke-width="1.05"/>
<circle cx="1099.0" cy="774.7" r="2.1" fill="#D5DCE8" stroke="#45454d" stroke-width="1.05"/>
<circle cx="1105.1" cy="769.9" r="2.1" fill="#D5DCE8" stroke="#45454d" stroke-width="1.05"/>
<circle cx="1110.7" cy="765.1" r="2.1" fill="#D5DCE8" stroke="#45454d" stroke-width="1.05"/>
<circle cx="1121.2" cy="757.3" r="2.1" fill="#D5DCE8" stroke="#45454d" stroke-width="1.05"/>
<circle cx="1124.7" cy="752.0" r="2.1" fill="#D5DCE8" stroke="#45454d" stroke-width="1.05"/>
<circle cx="1127.3" cy="746.8" r="2.1" fill="#D5DCE8" stroke="#45454d" stroke-width="1.05"/>
<circle cx="1130.7" cy="741.6" r="2.1" fill="#D5DCE8" stroke="#45454d" stroke-width="1.05"/>
<circle cx="1132.9" cy="736.8" r="2.1" fill="#D5DCE8" stroke="#45454d" stroke-width="1.05"/>
<circle cx="1136.4" cy="732.4" r="2.1" fill="#D5DCE8" stroke="#45454d" stroke-width="1.05"/>
<circle cx="1139.9" cy="727.6" r="2.1" fill="#D5DCE8" stroke="#45454d" stroke-width="1.05"/>
<circle cx="1143.8" cy="722.0" r="2.1" fill="#D5DCE8" stroke="#45454d" stroke-width="1.05"/>
<circle cx="1147.3" cy="715.9" r="2.1" fill="#D5DCE8" stroke="#45454d" stroke-width="1.05"/>
<circle cx="1126.4" cy="756.0" r="2.1" fill="#D5DCE8" stroke="#45454d" stroke-width="1.05"/>
<circle cx="1130.7" cy="752.0" r="2.1" fill="#D5DCE8" stroke="#45454d" stroke-width="1.05"/>
<circle cx="1135.1" cy="746.8" r="2.1" fill="#D5DCE8" stroke="#45454d" stroke-width="1.05"/>
<circle cx="1139.0" cy="741.6" r="2.1" fill="#D5DCE8" stroke="#45454d" stroke-width="1.05"/>
<circle cx="1142.9" cy="736.8" r="2.1" fill="#D5DCE8" stroke="#45454d" stroke-width="1.05"/>
<circle cx="1146.0" cy="731.6" r="2.1" fill="#D5DCE8" stroke="#45454d" stroke-width="1.05"/>
<circle cx="1149.0" cy="726.8" r="2.1" fill="#D5DCE8" stroke="#45454d" stroke-width="1.05"/>
<circle cx="1152.1" cy="722.0" r="2.1" fill="#D5DCE8" stroke="#45454d" stroke-width="1.05"/>
<circle cx="1155.6" cy="717.2" r="2.1" fill="#D5DCE8" stroke="#45454d" stroke-width="1.05"/>
<circle cx="1129.0" cy="764.7" r="2.1" fill="#D5DCE8" stroke="#45454d" stroke-width="1.05"/>
<circle cx="1132.5" cy="760.3" r="2.1" fill="#D5DCE8" stroke="#45454d" stroke-width="1.05"/>
<circle cx="1136.8" cy="755.1" r="2.1" fill="#D5DCE8" stroke="#45454d" stroke-width="1.05"/>
<circle cx="1142.5" cy="749.9" r="2.1" fill="#D5DCE8" stroke="#45454d" stroke-width="1.05"/>
<circle cx="1146.9" cy="745.1" r="2.1" fill="#D5DCE8" stroke="#45454d" stroke-width="1.05"/>
<circle cx="1150.3" cy="739.8" r="2.1" fill="#D5DCE8" stroke="#45454d" stroke-width="1.05"/>
<circle cx="1153.8" cy="734.6" r="2.1" fill="#D5DCE8" stroke="#45454d" stroke-width="1.05"/>
<circle cx="1156.9" cy="728.5" r="2.1" fill="#D5DCE8" stroke="#45454d" stroke-width="1.05"/>
<circle cx="1159.5" cy="722.9" r="2.1" fill="#D5DCE8" stroke="#45454d" stroke-width="1.05"/>
<circle cx="1160.8" cy="716.3" r="2.1" fill="#D5DCE8" stroke="#45454d" stroke-width="1.05"/>
<circle cx="1160.3" cy="862.0" r="1.9" fill="#D5DCE8" stroke="#45454d" stroke-width="1.05"/>
<circle cx="1169.1" cy="856.9" r="1.9" fill="#D5DCE8" stroke="#45454d" stroke-width="1.05"/>
<circle cx="1177.0" cy="857.2" r="1.9" fill="#D5DCE8" stroke="#45454d" stroke-width="1.05"/>
<circle cx="1184.2" cy="856.9" r="1.9" fill="#D5DCE8" stroke="#45454d" stroke-width="1.05"/>
<circle cx="1191.3" cy="856.1" r="1.9" fill="#D5DCE8" stroke="#45454d" stroke-width="1.05"/>
<circle cx="1197.7" cy="855.3" r="1.9" fill="#D5DCE8" stroke="#45454d" stroke-width="1.05"/>
<circle cx="1203.2" cy="855.3" r="1.9" fill="#D5DCE8" stroke="#45454d" stroke-width="1.05"/>
<circle cx="1210.8" cy="852.9" r="1.9" fill="#D5DCE8" stroke="#45454d" stroke-width="1.05"/>
<circle cx="1218.7" cy="851.3" r="1.9" fill="#D5DCE8" stroke="#45454d" stroke-width="1.05"/>
<circle cx="1225.9" cy="849.7" r="1.9" fill="#D5DCE8" stroke="#45454d" stroke-width="1.05"/>
<circle cx="1233.0" cy="847.7" r="1.9" fill="#D5DCE8" stroke="#45454d" stroke-width="1.05"/>
<circle cx="1242.6" cy="845.7" r="1.9" fill="#D5DCE8" stroke="#45454d" stroke-width="1.05"/>
<circle cx="1250.5" cy="844.9" r="1.9" fill="#D5DCE8" stroke="#45454d" stroke-width="1.05"/>
<circle cx="1166.7" cy="864.8" r="1.9" fill="#D5DCE8" stroke="#45454d" stroke-width="1.05"/>
<circle cx="1173.0" cy="864.8" r="1.9" fill="#D5DCE8" stroke="#45454d" stroke-width="1.05"/>
<circle cx="1180.6" cy="864.0" r="1.9" fill="#D5DCE8" stroke="#45454d" stroke-width="1.05"/>
<circle cx="1188.5" cy="864.0" r="1.9" fill="#D5DCE8" stroke="#45454d" stroke-width="1.05"/>
<circle cx="1196.1" cy="864.0" r="1.9" fill="#D5DCE8" stroke="#45454d" stroke-width="1.05"/>
<circle cx="1210.4" cy="864.4" r="1.9" fill="#D5DCE8" stroke="#45454d" stroke-width="1.05"/>
<circle cx="1215.2" cy="862.0" r="1.9" fill="#D5DCE8" stroke="#45454d" stroke-width="1.05"/>
<circle cx="1220.7" cy="860.0" r="1.9" fill="#D5DCE8" stroke="#45454d" stroke-width="1.05"/>
<circle cx="1226.7" cy="858.0" r="1.9" fill="#D5DCE8" stroke="#45454d" stroke-width="1.05"/>
<circle cx="1231.8" cy="856.5" r="1.9" fill="#D5DCE8" stroke="#45454d" stroke-width="1.05"/>
<circle cx="1237.4" cy="854.9" r="1.9" fill="#D5DCE8" stroke="#45454d" stroke-width="1.05"/>
<circle cx="1243.4" cy="853.7" r="1.9" fill="#D5DCE8" stroke="#45454d" stroke-width="1.05"/>
<circle cx="1249.7" cy="851.7" r="1.9" fill="#D5DCE8" stroke="#45454d" stroke-width="1.05"/>
<circle cx="1256.5" cy="849.7" r="1.9" fill="#D5DCE8" stroke="#45454d" stroke-width="1.05"/>
<circle cx="1213.6" cy="866.8" r="1.9" fill="#D5DCE8" stroke="#45454d" stroke-width="1.05"/>
<circle cx="1220.3" cy="866.4" r="1.9" fill="#D5DCE8" stroke="#45454d" stroke-width="1.05"/>
<circle cx="1226.7" cy="865.2" r="1.9" fill="#D5DCE8" stroke="#45454d" stroke-width="1.05"/>
<circle cx="1233.0" cy="863.6" r="1.9" fill="#D5DCE8" stroke="#45454d" stroke-width="1.05"/>
<circle cx="1239.0" cy="862.4" r="1.9" fill="#D5DCE8" stroke="#45454d" stroke-width="1.05"/>
<circle cx="1244.6" cy="860.8" r="1.9" fill="#D5DCE8" stroke="#45454d" stroke-width="1.05"/>
<circle cx="1250.1" cy="858.8" r="1.9" fill="#D5DCE8" stroke="#45454d" stroke-width="1.05"/>
<circle cx="1256.1" cy="857.6" r="1.9" fill="#D5DCE8" stroke="#45454d" stroke-width="1.05"/>
<circle cx="1261.6" cy="855.7" r="1.9" fill="#D5DCE8" stroke="#45454d" stroke-width="1.05"/>
<circle cx="1266.4" cy="858.4" r="1.9" fill="#D5DCE8" stroke="#45454d" stroke-width="1.05"/>
<circle cx="1210.4" cy="875.1" r="1.9" fill="#D5DCE8" stroke="#45454d" stroke-width="1.05"/>
<circle cx="1216.0" cy="873.9" r="1.9" fill="#D5DCE8" stroke="#45454d" stroke-width="1.05"/>
<circle cx="1222.7" cy="872.3" r="1.9" fill="#D5DCE8" stroke="#45454d" stroke-width="1.05"/>
<circle cx="1230.7" cy="871.9" r="1.9" fill="#D5DCE8" stroke="#45454d" stroke-width="1.05"/>
<circle cx="1237.0" cy="871.2" r="1.9" fill="#D5DCE8" stroke="#45454d" stroke-width="1.05"/>
<circle cx="1243.4" cy="869.6" r="1.9" fill="#D5DCE8" stroke="#45454d" stroke-width="1.05"/>
<circle cx="1248.9" cy="867.6" r="1.9" fill="#D5DCE8" stroke="#45454d" stroke-width="1.05"/>
<circle cx="1255.3" cy="864.8" r="1.9" fill="#D5DCE8" stroke="#45454d" stroke-width="1.05"/>
<circle cx="1261.6" cy="862.4" r="1.9" fill="#D5DCE8" stroke="#45454d" stroke-width="1.05"/>
<line x1="1036.3" y1="671.3" x2="1051.5" y2="688.5" stroke="#A866B4" stroke-width="1.9"/>
<circle cx="1051.5" cy="688.5" r="3" fill="#A866B4"/>
<line x1="1111.5" y1="664" x2="1111.5" y2="691.4" stroke="#A866B4" stroke-width="1.9"/>
<circle cx="1111.5" cy="691.4" r="3" fill="#A866B4"/>
<line x1="1240.8" y1="664" x2="1240.8" y2="740.4" stroke="#A866B4" stroke-width="1.9"/>
<circle cx="1240.8" cy="740.4" r="3" fill="#A866B4"/>
<line x1="1374.7" y1="694.3" x2="1351" y2="723.8" stroke="#A866B4" stroke-width="1.9"/>
<circle cx="1351" cy="723.8" r="3" fill="#A866B4"/>
<line x1="959.3" y1="736.4" x2="1109.1" y2="751.9" stroke="#A866B4" stroke-width="1.9"/>
<circle cx="1109.1" cy="751.9" r="3" fill="#A866B4"/>
<line x1="941.9" y1="777.8" x2="1162.4" y2="777.8" stroke="#A866B4" stroke-width="1.9"/>
<circle cx="1162.4" cy="777.8" r="3" fill="#A866B4"/>
<line x1="971.2" y1="804.1" x2="1218.9" y2="804.1" stroke="#A866B4" stroke-width="1.9"/>
<circle cx="1218.9" cy="804.1" r="3" fill="#A866B4"/>
<line x1="978.2" y1="839.3" x2="1144.2" y2="839.3" stroke="#A866B4" stroke-width="1.9"/>
<circle cx="1144.2" cy="839.3" r="3" fill="#A866B4"/>
<line x1="1374.7" y1="893.6" x2="1314.7" y2="893.6" stroke="#A866B4" stroke-width="1.9"/>
<circle cx="1314.7" cy="893.6" r="3" fill="#A866B4"/>
<line x1="963.5" y1="935.2" x2="1014.9" y2="935.2" stroke="#A866B4" stroke-width="1.9"/>
<circle cx="1014.9" cy="935.2" r="3" fill="#A866B4"/>
<line x1="1045.1" y1="1001.5" x2="1074.5" y2="968.5" stroke="#A866B4" stroke-width="1.9"/>
<circle cx="1074.5" cy="968.5" r="3" fill="#A866B4"/>
<line x1="1284.7" y1="964.8" x2="1223.8" y2="889.9" stroke="#A866B4" stroke-width="1.9"/>
<circle cx="1223.8" cy="889.9" r="3" fill="#A866B4"/>
<text x="923.5" y="674" font-family="Liberation Sans" font-size="16" fill="#2a2a2a" stroke="#2a2a2a" stroke-width="0.3" textLength="108.2" lengthAdjust="spacingAndGlyphs">Cell Membrane</text>
<text x="1082.1" y="658.4" font-family="Liberation Sans" font-size="16" fill="#2a2a2a" stroke="#2a2a2a" stroke-width="0.3" textLength="57.5" lengthAdjust="spacingAndGlyphs">Vacuole</text>
<text x="1191.5" y="658.4" font-family="Liberation Sans" font-size="16" fill="#2a2a2a" stroke="#2a2a2a" stroke-width="0.3" textLength="89.5" lengthAdjust="spacingAndGlyphs">Centrosome</text>
<text x="1378.1" y="687.5" font-family="Liberation Sans" font-size="16" fill="#2a2a2a" stroke="#2a2a2a" stroke-width="0.3" textLength="76" lengthAdjust="spacingAndGlyphs">Golgi Body</text>
<text x="843.8" y="723.5" font-family="Liberation Sans" font-size="16" fill="#2a2a2a" stroke="#2a2a2a" stroke-width="0.3" textLength="144" lengthAdjust="spacingAndGlyphs">Rough Endoplasmic</text>
<text x="879.1" y="742.8" font-family="Liberation Sans" font-size="16" fill="#2a2a2a" stroke="#2a2a2a" stroke-width="0.3" textLength="73" lengthAdjust="spacingAndGlyphs">Reticulum</text>
<text x="879.1" y="781.3" font-family="Liberation Sans" font-size="16" fill="#2a2a2a" stroke="#2a2a2a" stroke-width="0.3" textLength="59" lengthAdjust="spacingAndGlyphs">Nucleus</text>
<text x="893.3" y="808.8" font-family="Liberation Sans" font-size="16" fill="#2a2a2a" stroke="#2a2a2a" stroke-width="0.3" textLength="72.4" lengthAdjust="spacingAndGlyphs">Nucleolus</text>
<text x="915" y="842" font-family="Liberation Sans" font-size="16" fill="#2a2a2a" stroke="#2a2a2a" stroke-width="0.3" textLength="55.5" lengthAdjust="spacingAndGlyphs">Nuclear</text>
<text x="915" y="861.3" font-family="Liberation Sans" font-size="16" fill="#2a2a2a" stroke="#2a2a2a" stroke-width="0.3" textLength="77.5" lengthAdjust="spacingAndGlyphs">Membrane</text>
<text x="1382.5" y="898.4" font-family="Liberation Sans" font-size="16" fill="#2a2a2a" stroke="#2a2a2a" stroke-width="0.3" textLength="81.3" lengthAdjust="spacingAndGlyphs">Ribosomes</text>
<text x="887.4" y="939.2" font-family="Liberation Sans" font-size="16" fill="#2a2a2a" stroke="#2a2a2a" stroke-width="0.3" textLength="72.5" lengthAdjust="spacingAndGlyphs">Lysosome</text>
<text x="1294.4" y="962" font-family="Liberation Sans" font-size="16" fill="#2a2a2a" stroke="#2a2a2a" stroke-width="0.3" textLength="154" lengthAdjust="spacingAndGlyphs">Smooth Endoplasmic</text>
<text x="1294.4" y="981.6" font-family="Liberation Sans" font-size="16" fill="#2a2a2a" stroke="#2a2a2a" stroke-width="0.3" textLength="73.8" lengthAdjust="spacingAndGlyphs">Reticulum</text>
<text x="928.7" y="1007" font-family="Liberation Sans" font-size="16" fill="#2a2a2a" stroke="#2a2a2a" stroke-width="0.3" textLength="105.4" lengthAdjust="spacingAndGlyphs">Mitochondrion</text>
</svg>
</body></html>
